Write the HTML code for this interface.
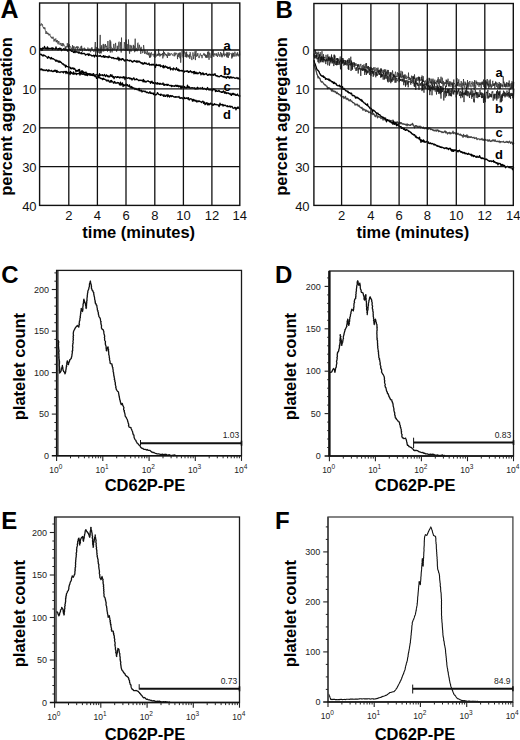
<!DOCTYPE html>
<html><head><meta charset="utf-8"><style>
html,body{margin:0;padding:0;background:#fff;width:520px;height:740px;overflow:hidden}
svg{display:block}
text{font-family:"Liberation Sans",sans-serif}
</style></head><body>
<svg width="520" height="740" viewBox="0 0 520 740">
<rect width="520" height="740" fill="#fff"/>
<polyline points="40,25.2 40.4,25.7 40.7,24.3 41.1,23.6 41.4,23.5 41.8,25.4 42.1,24.5 42.5,24.4 42.8,27 43.2,27.4 43.5,28.4 43.9,27 44.2,28.7 44.6,29 44.9,27.6 45.3,30.7 45.6,30.8 46,34 46.3,31.5 46.7,31.5 47,33.7 47.4,32.8 47.7,34.2 48.1,32.9 48.4,34 48.8,35.4 49.1,35.4 49.5,35 49.8,33.8 50.2,36.1 50.5,36 50.9,37.2 51.2,36.8 51.6,38.3 51.9,37.1 52.3,37.7 52.6,38.6 53,36.7 53.3,37.8 53.7,38 54,41.5 54.4,39.2 54.7,40.4 55.1,40.7 55.4,39.8 55.8,38.5 56.1,42.1 56.5,40.6 56.8,42.3 57.2,40 57.5,41.4 57.9,43.8 58.2,44.3 58.6,41 58.9,41.3 59.3,43.2 59.6,44.4 60,44 60.3,44.4 60.7,42.9 61,45.1 61.4,46 61.7,44.1 62.1,43 62.4,44.1 62.8,46.3 63.1,43.2 63.5,45.4 63.8,44.4 64.2,45.6 64.5,45.6 64.9,46.1 65.2,48.1 65.6,46.8 65.9,48.1 66.3,46.3 66.6,46 67,47.3 67.3,43.2 67.7,47 68,47.3 68.4,45.6 68.7,47.9 69.1,46.7 69.4,44.3 69.8,47.3 70.1,46.3 70.4,47 70.8,47.6 71.1,49.5 71.5,48 71.8,47.9 72.2,48.6 72.5,45.1 72.9,50 73.2,46.4 73.6,48.8 73.9,46.3 74.3,46.6 74.6,47.5 75,51.2 75.3,49.3 75.7,47.3 76,47.8 76.4,46.4 76.7,48.2 77.1,47.4 77.4,49.5 77.8,46.2 78.1,47.8 78.5,47.1 78.8,47.3 79.2,49.6 79.5,48.7 79.9,49.4 80.2,50.4 80.6,50.4 80.9,46.4 81.3,49.5 81.6,45.8 82,48.6 82.3,51.8 82.7,48.5 83,48.2 83.4,49.1 83.7,48.9 84.1,49 84.4,47.7 84.8,50.7 85.1,50.4 85.5,48.7 85.8,49.6 86.2,50.2 86.5,50.8 86.9,49.8 87.2,50.3 87.6,48.8 87.9,47.6 88.3,48.5 88.6,51 89,51 89.3,49.7 89.7,48.6 90,50 90.4,52.2 90.7,51.7 91.1,48.4 91.4,49.4 91.8,47.2 92.1,47.7 92.5,49.8 92.8,49.5 93.2,51 93.5,51.5 93.9,50.8 94.2,51.6 94.6,48.6 94.9,47.7 95.3,42 95.6,54.9 96,46.9 96.3,47.2 96.7,49.4 97,52.4 97.4,47.4 97.7,51.1 98.1,52.8 98.4,51 98.8,48.3 99.1,50.1 99.5,53.5 99.8,48.7 100.2,34.9 100.5,53.2 100.9,47.5 101.2,53.4 101.6,45.3 101.9,51.6 102.3,49.4 102.6,49.6 103,45 103.3,43.9 103.7,51.5 104,44.6 104.4,48.2 104.7,48.7 105.1,51 105.4,44 105.8,47 106.1,46.9 106.5,45.8 106.8,50.4 107.2,48.1 107.5,51.6 107.9,41 108.2,47 108.6,49.9 108.9,50.9 109.3,48.4 109.6,46.3 110,39.9 110.3,52.6 110.7,41.4 111,46.2 111.4,46.6 111.7,49.9 112.1,52.4 112.4,48.3 112.8,48.1 113.1,50 113.5,47.1 113.8,43.9 114.2,48.1 114.5,48 114.9,50.1 115.2,46.7 115.6,42.9 115.9,48.5 116.3,49 116.6,51.7 117,49.3 117.3,45.8 117.7,49.8 118,47.9 118.4,48.7 118.7,42.5 119.1,41.7 119.4,46.9 119.8,47.6 120.1,49.9 120.5,42.2 120.8,46.5 121.2,52.5 121.5,37.6 121.9,50.2 122.2,49.4 122.6,48.9 122.9,48.8 123.3,48.7 123.6,50 124,49.4 124.3,42.1 124.7,44.8 125,50.8 125.4,48.9 125.7,46.6 126.1,39.6 126.4,47.9 126.8,49.7 127.1,48.8 127.5,50.5 127.8,44.1 128.2,50.5 128.5,39.5 128.9,47.9 129.2,50.4 129.6,53.7 129.9,44.9 130.3,45.1 130.6,47.8 131,51.7 131.3,48.2 131.7,45.5 132,48.7 132.4,49.1 132.7,48.5 133.1,49.6 133.4,44.9 133.8,48.9 134.1,45.8 134.5,52.2 134.8,51.4 135.2,38.7 135.5,51.2 135.9,50.2 136.2,47.9 136.6,48.8 136.9,51.1 137.3,51.2 137.6,43.3 138,42.7 138.3,46.9 138.7,49.8 139,48.8 139.4,44.8 139.7,47.7 140.1,48.8 140.4,48.3 140.8,53.9 141.1,46.8 141.5,50.7 141.8,49.7 142.2,50.2 142.5,53 142.9,52.9 143.2,50.3 143.6,45.1 143.9,47.2 144.3,51 144.6,53.8 145,50.4 145.3,51.7 145.7,53.3 146,52.8 146.4,54.3 146.7,52.3 147.1,51.1 147.4,50.7 147.8,54.9 148.1,52.7 148.5,53 148.8,55.4 149.2,52.5 149.5,57.6 149.9,55.7 150.2,57.7 150.6,53.3 150.9,56.6 151.3,52.3 151.6,53.3 152,54.5 152.3,54.9 152.7,54.6 153,55.3 153.4,53.8 153.7,54.3 154.1,56.9 154.4,55.8 154.8,53.7 155.1,57.8 155.5,50.8 155.8,54.7 156.2,55.8 156.5,56.4 156.9,54.8 157.2,53.8 157.6,55.7 157.9,54.2 158.3,55.5 158.6,49.2 159,55.3 159.3,53.1 159.7,56.4 160,56 160.4,56 160.7,53.8 161.1,55.4 161.4,54 161.8,55 162.1,54.4 162.5,53 162.8,58.4 163.2,56 163.5,50.7 163.9,56.3 164.2,52 164.6,54.2 164.9,53.5 165.3,53.6 165.6,55.1 166,54 166.3,56.1 166.7,54.7 167,55.4 167.4,58 167.7,53.9 168.1,52.4 168.4,54 168.8,55.9 169.1,53 169.5,53.3 169.8,55.8 170.2,54.7 170.5,55.1 170.9,53.5 171.2,53.1 171.6,54.1 171.9,54.4 172.3,54.1 172.6,55.5 173,55.8 173.3,55.8 173.7,55.6 174,53.1 174.4,52.6 174.7,56.3 175.1,54.8 175.4,55 175.8,52.6 176.1,54.4 176.5,53.6 176.8,53.1 177.2,53.6 177.5,59.1 177.9,54.9 178.2,57 178.6,53.4 178.9,55 179.3,52.7 179.6,56.1 180,58.3 180.3,52.5 180.7,62.7 181,57.5 181.4,55.5 181.7,55 182.1,50.9 182.4,54.5 182.8,56.6 183.1,57.6 183.5,56.1 183.8,53.7 184.2,53.5 184.5,51.4 184.9,52.8 185.2,57 185.6,54.6 185.9,52.3 186.3,57.4 186.6,51.7 187,57.3 187.3,54.3 187.7,55.5 188,56.2 188.4,55.4 188.7,57.3 189.1,54.9 189.4,54.3 189.8,58.8 190.1,52.2 190.5,53.6 190.8,56.8 191.2,56.5 191.5,57.6 191.9,60.1 192.2,56.3 192.6,55.9 192.9,52.4 193.3,54.5 193.6,59.1 194,55.9 194.3,54.7 194.7,55.5 195,51.3 195.4,60.1 195.7,52.5 196.1,50.9 196.4,56.4 196.8,56.8 197.1,54.6 197.5,55.6 197.8,53.1 198.2,55.8 198.5,56.4 198.9,57.9 199.2,58 199.6,55.9 199.9,54.8 200.3,53.4 200.6,53.9 201,56.2 201.3,56.1 201.7,55.1 202,58.2 202.4,56.3 202.7,55.1 203.1,54.7 203.4,55.2 203.8,53.2 204.1,53.2 204.5,55.7 204.8,53.9 205.2,54.5 205.5,57.4 205.9,54.7 206.2,57.6 206.6,55.1 206.9,58 207.3,56 207.6,51.8 208,57.5 208.3,54.7 208.7,51.4 209,59.8 209.4,55.4 209.7,52.7 210.1,54 210.4,56.2 210.8,57.8 211.1,57.3 211.5,57.5 211.8,57.3 212.2,50.4 212.5,53.8 212.9,55.5 213.2,50.1 213.6,56.6 213.9,56.9 214.3,53.7 214.6,54.5 215,53.4 215.3,55.2 215.7,55.1 216,55.2 216.4,53.3 216.7,55.9 217.1,54.6 217.4,57 217.8,55.8 218.1,52.4 218.5,52.5 218.8,55.4 219.2,54.3 219.5,56.1 219.9,56.8 220.2,55.3 220.6,52.1 220.9,53 221.3,56.4 221.6,53.3 222,57.4 222.3,55.1 222.7,56.3 223,53.6 223.4,55.1 223.7,49.7 224.1,54.9 224.4,56.4 224.8,53.6 225.1,53.7 225.5,55.2 225.8,55.4 226.2,53.8 226.5,56.6 226.9,52.2 227.2,57.5 227.6,52.7 227.9,53.8 228.3,57.9 228.6,53.5 229,52.2 229.3,55.5 229.7,53.6 230,53.3 230.4,54 230.7,54 231.1,53.5 231.4,53.4 231.8,58.5 232.1,54.1 232.5,57.3 232.8,52.7 233.2,56.4 233.5,53 233.9,54.6 234.2,56.6 234.6,54.4 234.9,51.7 235.3,54.4 235.6,55.1 236,56.5 236.3,53.6 236.7,54.9 237,55.6 237.4,52.3 237.7,55.3 238.1,53.9 238.4,56.3 238.8,55.3 239.1,55.2 239.5,50.9 239.8,55.3" fill="none" stroke="#333" stroke-width="0.75" stroke-linejoin="round" />
<polyline points="40,50.1 40.5,48.4 41,49 41.5,48.8 42,50.5 42.5,48 43,48.5 43.5,48.3 44,48.1 44.5,46.4 45,48.4 45.5,48.5 46,48.1 46.5,48.8 47,48.3 47.5,46.8 48,49.2 48.5,48.3 49,48.1 49.5,48.7 50,48.6 50.5,48.6 51,48.1 51.5,48.7 52,47.8 52.5,49.5 53,48 53.5,48.7 54,48.8 54.5,49 55,48.8 55.5,49.2 56,47 56.5,48.9 57,48.9 57.5,48.8 58,49.9 58.5,48.6 59,49.1 59.5,48.1 60,49.4 60.5,48.4 61,48.5 61.5,50.7 62,49.9 62.5,49.5 63,49.7 63.5,48.8 64,49.1 64.5,50 65,48.7 65.5,50 66,49 66.5,50.1 67,49.4 67.5,51.1 68,50.8 68.5,50 69,49.3 69.5,48.9 70,50.4 70.5,50 71,50.9 71.5,51.4 72,50.9 72.5,50.9 73,51.7 73.5,52.5 74,52 74.5,51.5 75,52.7 75.5,51.8 76,51.5 76.5,52.2 77,52 77.5,51.9 78,52.5 78.5,53.1 79,51.7 79.5,53 80,53 80.5,53.1 81,53.7 81.5,52.6 82,53.8 82.5,53.4 83,53.6 83.5,53.5 84,53.5 84.5,53.5 85,54.1 85.5,55.1 86,54.6 86.5,54.5 87,54.4 87.5,53.9 88,54.6 88.5,55.5 89,53.7 89.5,54.9 90,55.1 90.5,54.8 91,55.1 91.5,55.5 92,56.1 92.5,55.6 93,55.9 93.5,55.2 94,55.6 94.5,57 95,55.4 95.5,55.1 96,55.8 96.5,56.3 97,55.5 97.5,55.8 98,56 98.5,55.8 99,56.4 99.5,56 100,55.3 100.5,55.5 101,56.5 101.5,56.6 102,56.9 102.5,56.5 103,56.5 103.5,55.6 104,57.4 104.5,56.1 105,57.3 105.5,56.2 106,56.5 106.5,57 107,56.8 107.5,56.7 108,57.7 108.5,57.6 109,55.8 109.5,57.2 110,57 110.5,57.3 111,57.3 111.5,57.7 112,58.2 112.5,57.8 113,57.5 113.5,57.7 114,58.8 114.5,58.3 115,58.4 115.5,58.5 116,58.7 116.5,58.5 117,59.2 117.5,59.1 118,57.1 118.5,58.7 119,60.5 119.5,58.2 120,59.1 120.5,59.7 121,59.2 121.5,60 122,58.6 122.5,58.7 123,59.4 123.5,59.2 124,60.5 124.5,60.1 125,61.2 125.5,59.9 126,59.8 126.5,60.2 127,60.1 127.5,59.8 128,60.6 128.5,60.6 129,60.5 129.5,61 130,60.1 130.5,60.7 131,60.5 131.5,61.6 132,61.3 132.5,62.2 133,62 133.5,61 134,60.7 134.5,60.5 135,61.3 135.5,61.5 136,61.1 136.5,62.1 137,60.6 137.5,62.1 138,62.2 138.5,61.6 139,61 139.5,62.1 140,62 140.5,62.2 141,63.1 141.5,62.6 142,63.6 142.5,62.9 143,64.4 143.5,63.3 144,63.5 144.5,62.5 145,63.9 145.5,63.4 146,62.9 146.5,63.9 147,63.8 147.5,64.4 148,64.2 148.5,64.1 149,63.1 149.5,65 150,65 150.5,64.7 151,64.6 151.5,65.1 152,64.1 152.5,65 153,64.7 153.5,64.3 154,65.1 154.5,65.2 155,66 155.5,67.5 156,64.4 156.5,64.3 157,65.4 157.5,65.4 158,65.1 158.5,64.9 159,65.7 159.5,65.3 160,64.6 160.5,66.6 161,66.3 161.5,65.9 162,65.8 162.5,66.4 163,67.6 163.5,65.3 164,67.8 164.5,66.5 165,67 165.5,66 166,66.9 166.5,67.4 167,66.8 167.5,68 168,68.4 168.5,67.5 169,68.1 169.5,67.8 170,67 170.5,69.8 171,68.7 171.5,69 172,68.8 172.5,68.8 173,70.1 173.5,67.9 174,68.9 174.5,68.9 175,69.1 175.5,69.8 176,69.1 176.5,67.6 177,69.1 177.5,70.1 178,70.4 178.5,69.1 179,71 179.5,70 180,70.9 180.5,70.8 181,70.5 181.5,70.3 182,71.3 182.5,70.5 183,70.8 183.5,70.5 184,72.1 184.5,72.1 185,71 185.5,71.2 186,71.3 186.5,71.5 187,70.6 187.5,71 188,72 188.5,72.4 189,71.3 189.5,72 190,71.6 190.5,70.8 191,71.9 191.5,71.6 192,72.7 192.5,72.2 193,72.4 193.5,71.6 194,73.8 194.5,71.5 195,72.8 195.5,73.5 196,72.1 196.5,73.3 197,73.7 197.5,72.9 198,73.7 198.5,73.2 199,72.9 199.5,72.2 200,72.8 200.5,72.6 201,74.8 201.5,73.7 202,73.5 202.5,72.9 203,74.7 203.5,73.2 204,74.7 204.5,74.6 205,74.1 205.5,73.7 206,74.1 206.5,73.5 207,74.7 207.5,75.3 208,74.9 208.5,75.1 209,74.2 209.5,74.8 210,74.2 210.5,74.5 211,75.3 211.5,74.6 212,75 212.5,75.1 213,74.1 213.5,75.3 214,74.8 214.5,74.6 215,73.6 215.5,75.6 216,75.4 216.5,76 217,75.6 217.5,75.8 218,76.7 218.5,76.4 219,76.4 219.5,76.9 220,76.3 220.5,75.7 221,75.8 221.5,75.5 222,76.6 222.5,76.3 223,76.9 223.5,77.1 224,76.3 224.5,76.9 225,77.6 225.5,77 226,77.5 226.5,78.2 227,76.6 227.5,77.1 228,76.2 228.5,77.7 229,77.1 229.5,78.2 230,76.9 230.5,77.7 231,76.7 231.5,77.7 232,78.1 232.5,77.5 233,77.4 233.5,77.3 234,77.8 234.5,77.8 235,78.4 235.5,78.2 236,78.1 236.5,78.1 237,77.5 237.5,78.4 238,78.9 238.5,78 239,78.7 239.5,79.3 240,78.6" fill="none" stroke="#000" stroke-width="1.3" stroke-linejoin="round" />
<polyline points="40,69.1 40.5,69.8 41,68.7 41.5,69.8 42,69.3 42.5,69.4 43,70.6 43.5,69.8 44,69.8 44.5,70.3 45,70.6 45.5,70.1 46,70.5 46.5,69.8 47,70.2 47.5,70.3 48,71.5 48.5,69.9 49,69.9 49.5,70.8 50,70.9 50.5,70.9 51,71.1 51.5,70.4 52,71.2 52.5,71.4 53,71.7 53.5,70.9 54,71.2 54.5,70.3 55,71.2 55.5,70.3 56,70.8 56.5,72.3 57,70.5 57.5,72.2 58,72 58.5,71.7 59,72.2 59.5,72.2 60,72.6 60.5,71.9 61,71.8 61.5,71.8 62,71.7 62.5,72.2 63,71.9 63.5,72.9 64,71.4 64.5,71.8 65,72 65.5,71.4 66,73.6 66.5,71.3 67,72.5 67.5,72.5 68,73.7 68.5,71.8 69,73.5 69.5,72.5 70,74.6 70.5,71.4 71,73.5 71.5,72.5 72,73.2 72.5,73.4 73,74.3 73.5,72 74,74.2 74.5,74 75,73.2 75.5,73.7 76,73.3 76.5,74.6 77,73.8 77.5,73.6 78,73.7 78.5,73.7 79,73.8 79.5,72.3 80,75.1 80.5,73 81,72.1 81.5,74 82,74 82.5,74.3 83,74.1 83.5,72.3 84,74.4 84.5,74.8 85,74 85.5,74.1 86,75.4 86.5,74.7 87,73.8 87.5,75.7 88,74.9 88.5,74.1 89,73.9 89.5,74.7 90,75.2 90.5,74 91,73.9 91.5,74.4 92,75.3 92.5,74.5 93,73.9 93.5,73.6 94,74.8 94.5,75.3 95,75.5 95.5,74.8 96,74.8 96.5,74.9 97,74.3 97.5,75.3 98,75.8 98.5,75.2 99,76.3 99.5,73.6 100,75.8 100.5,74.9 101,75.2 101.5,75 102,75.3 102.5,74.7 103,75.8 103.5,75.7 104,75.1 104.5,74.5 105,75.9 105.5,76.5 106,75.6 106.5,74.9 107,75.8 107.5,76.5 108,75.7 108.5,76.9 109,76.2 109.5,76.9 110,76.5 110.5,74.7 111,75.8 111.5,76.2 112,74.8 112.5,77.1 113,76.9 113.5,76.4 114,78.7 114.5,77.4 115,76.8 115.5,76.7 116,76.8 116.5,77.5 117,77.4 117.5,76.6 118,77.4 118.5,76.9 119,76.8 119.5,78 120,77.8 120.5,77 121,77.5 121.5,77.7 122,77.1 122.5,77.5 123,78 123.5,76.6 124,77.8 124.5,77.1 125,79.7 125.5,77.1 126,78 126.5,77.4 127,78.2 127.5,78.3 128,78.1 128.5,77.7 129,77.9 129.5,78.8 130,77.9 130.5,78.8 131,78.9 131.5,78.5 132,80.1 132.5,78.9 133,78.8 133.5,78 134,78 134.5,79.8 135,79.7 135.5,79.3 136,79.6 136.5,78.7 137,79.5 137.5,79.3 138,79.9 138.5,80.6 139,80.2 139.5,80.5 140,80 140.5,80.2 141,80.6 141.5,80.5 142,80.1 142.5,80.3 143,81.9 143.5,79.3 144,81.6 144.5,80.7 145,82.1 145.5,81.4 146,81.6 146.5,81.9 147,81.2 147.5,81.1 148,80.7 148.5,81.4 149,81.6 149.5,81.7 150,82.1 150.5,83.3 151,81.3 151.5,82.5 152,81.2 152.5,82.9 153,83.3 153.5,82.5 154,83.3 154.5,83.8 155,83.9 155.5,82.6 156,83.2 156.5,83.2 157,84.2 157.5,82.6 158,83.8 158.5,83.6 159,83.5 159.5,84.3 160,83.2 160.5,84.1 161,83.9 161.5,83.9 162,84.3 162.5,84.2 163,82.9 163.5,84.4 164,85.4 164.5,84.2 165,85 165.5,84.8 166,84.4 166.5,85.1 167,84.2 167.5,85.4 168,84.4 168.5,84.7 169,85.2 169.5,85.5 170,85.6 170.5,85.7 171,85.2 171.5,86.6 172,85.7 172.5,85.7 173,86.2 173.5,86.2 174,85.8 174.5,86.3 175,86.1 175.5,85.2 176,85.5 176.5,86.3 177,85.3 177.5,86.2 178,85.5 178.5,86.8 179,86 179.5,86.6 180,85.7 180.5,86.5 181,88.7 181.5,87 182,85.8 182.5,87.4 183,87.5 183.5,88.2 184,87.9 184.5,86.5 185,87.1 185.5,87.8 186,88 186.5,88 187,86.7 187.5,85.1 188,87.6 188.5,86.7 189,87.4 189.5,86.9 190,88.2 190.5,88.1 191,88 191.5,87.7 192,87.8 192.5,87.7 193,88.1 193.5,88 194,88.2 194.5,87.8 195,89.1 195.5,88.2 196,88.9 196.5,88.9 197,87.7 197.5,87.3 198,89 198.5,88.1 199,88.4 199.5,88.3 200,88.5 200.5,87.9 201,88.5 201.5,88.3 202,88.6 202.5,87.4 203,89.2 203.5,88.9 204,88.7 204.5,88.4 205,88.9 205.5,89.3 206,89 206.5,89.8 207,89.1 207.5,87.5 208,88.8 208.5,89.6 209,90 209.5,89.7 210,89.9 210.5,89.7 211,90 211.5,89.4 212,89.5 212.5,90.9 213,89.4 213.5,89 214,89.7 214.5,89.5 215,89.4 215.5,91.5 216,90.7 216.5,90.4 217,91.4 217.5,91.3 218,91.5 218.5,90.7 219,90.3 219.5,91.5 220,91.5 220.5,91.9 221,91.8 221.5,92.4 222,91.7 222.5,92.3 223,91.6 223.5,90.9 224,92 224.5,93.2 225,91.6 225.5,93.2 226,92.4 226.5,93.6 227,93 227.5,93.2 228,92.7 228.5,93.4 229,93.7 229.5,94 230,93.3 230.5,94.6 231,95 231.5,95.4 232,93.4 232.5,94.4 233,93.4 233.5,93.5 234,94.9 234.5,94.1 235,94 235.5,95.1 236,95.4 236.5,94.8 237,95.2 237.5,94 238,95.1 238.5,95.7 239,95.9 239.5,96.8 240,95.4" fill="none" stroke="#000" stroke-width="1.3" stroke-linejoin="round" />
<polyline points="40,54 40.5,54.5 41,54.1 41.5,54.8 42,55.3 42.5,55.2 43,56.1 43.5,54.9 44,55.6 44.5,55.4 45,55.6 45.5,56.1 46,56.5 46.5,56.8 47,57.1 47.5,58.2 48,57.7 48.5,56.5 49,57.7 49.5,57.5 50,57.7 50.5,58.9 51,58.3 51.5,57.5 52,59 52.5,58.8 53,58.6 53.5,58.9 54,59.3 54.5,59.8 55,59.8 55.5,60.2 56,61.4 56.5,60.2 57,60.4 57.5,60.9 58,61.8 58.5,61 59,62.4 59.5,61.1 60,61.4 60.5,62.3 61,62.2 61.5,62.6 62,63.5 62.5,64 63,63.9 63.5,64 64,65.2 64.5,65 65,65 65.5,67 66,65.3 66.5,66.2 67,66.7 67.5,66.7 68,66.7 68.5,67.4 69,67 69.5,67.2 70,67.1 70.5,68.6 71,67.7 71.5,68.8 72,68.5 72.5,68.4 73,67.7 73.5,69 74,69.1 74.5,68.4 75,69.4 75.5,70 76,71.7 76.5,70.4 77,70.8 77.5,70.4 78,71.4 78.5,69.7 79,70.5 79.5,69.4 80,72.3 80.5,72.5 81,72.3 81.5,71.3 82,70.6 82.5,72.5 83,71.3 83.5,73.1 84,72.2 84.5,72.8 85,72.4 85.5,72.9 86,72 86.5,74.1 87,73.3 87.5,73.6 88,74 88.5,73.9 89,74.1 89.5,73.7 90,74.3 90.5,74.7 91,75.2 91.5,74.8 92,75.1 92.5,75.4 93,75.6 93.5,75.6 94,75.5 94.5,75.6 95,76.6 95.5,76.3 96,76.3 96.5,78.4 97,77.2 97.5,77.3 98,77.1 98.5,76.6 99,78 99.5,77.5 100,77.7 100.5,78.4 101,78.6 101.5,78.3 102,78.3 102.5,79.7 103,79 103.5,78.3 104,79.4 104.5,79.2 105,79.4 105.5,79.9 106,79.8 106.5,80.9 107,80.1 107.5,80.3 108,81 108.5,80.2 109,81.2 109.5,82.1 110,81.7 110.5,80.7 111,82.4 111.5,80.5 112,81.3 112.5,81.7 113,82.1 113.5,83.1 114,83.1 114.5,81.5 115,82 115.5,83.2 116,82.9 116.5,82.9 117,83.2 117.5,82.5 118,82.8 118.5,82.7 119,83.4 119.5,84.9 120,84 120.5,82.1 121,85.4 121.5,83.9 122,84.3 122.5,82.8 123,86.5 123.5,84.6 124,85.7 124.5,84.9 125,85.5 125.5,85.4 126,83.9 126.5,85 127,85.7 127.5,84.6 128,86 128.5,86.2 129,86.5 129.5,84.8 130,87 130.5,86.8 131,87.6 131.5,86.5 132,88.1 132.5,87.3 133,88.3 133.5,87.9 134,88.2 134.5,88.2 135,89.5 135.5,88.4 136,88.5 136.5,89.5 137,89.7 137.5,89.8 138,89.5 138.5,88.5 139,90.7 139.5,88.3 140,90.8 140.5,91 141,90.8 141.5,90.2 142,92 142.5,91.1 143,91.3 143.5,91.1 144,90.9 144.5,91.4 145,91.8 145.5,91.3 146,91.9 146.5,92.6 147,92.4 147.5,92.2 148,92.9 148.5,93 149,93.1 149.5,92.3 150,91.8 150.5,93.4 151,93.1 151.5,93 152,93.6 152.5,93.2 153,93.2 153.5,94.6 154,92.9 154.5,94.3 155,94.6 155.5,95 156,94.3 156.5,94.5 157,93.8 157.5,92.6 158,93.3 158.5,94.2 159,94.6 159.5,94.6 160,94.5 160.5,95.4 161,94 161.5,95 162,94.8 162.5,95.1 163,95.2 163.5,96.3 164,94.7 164.5,96.1 165,96.2 165.5,96.4 166,95.2 166.5,95 167,95.2 167.5,96.9 168,94.7 168.5,96.2 169,95.6 169.5,97.1 170,96.3 170.5,95.5 171,96 171.5,96.5 172,95.6 172.5,96 173,96.4 173.5,96.4 174,97 174.5,96.9 175,97 175.5,96.6 176,97.4 176.5,96.8 177,96.7 177.5,97 178,97.1 178.5,97.2 179,96.4 179.5,98.2 180,97.9 180.5,98.4 181,97.5 181.5,98.2 182,98 182.5,97.9 183,99 183.5,97.8 184,98.5 184.5,97.4 185,98.7 185.5,98.4 186,98.1 186.5,98.4 187,97.7 187.5,98.4 188,99.1 188.5,97.7 189,99.8 189.5,99.9 190,99 190.5,98.7 191,98.9 191.5,99.1 192,99.5 192.5,101.2 193,99.5 193.5,99.4 194,101 194.5,99.9 195,100.3 195.5,101 196,100.3 196.5,101.5 197,102.1 197.5,101 198,100.7 198.5,101.5 199,101.5 199.5,101 200,101.4 200.5,101.7 201,102 201.5,102.5 202,101.7 202.5,101.3 203,101.2 203.5,103.3 204,102.1 204.5,102.2 205,104.7 205.5,103.3 206,104 206.5,102.8 207,102.6 207.5,104.4 208,105 208.5,103.5 209,103.6 209.5,104.7 210,104.3 210.5,103.1 211,104 211.5,104.2 212,103.6 212.5,105.3 213,104.6 213.5,105 214,104 214.5,103.7 215,104.8 215.5,104.4 216,104.3 216.5,104.6 217,104.8 217.5,104.9 218,104.7 218.5,105.2 219,106.6 219.5,105.7 220,103.1 220.5,104.6 221,105 221.5,104.5 222,104.7 222.5,104.4 223,106.2 223.5,105 224,104.9 224.5,105.5 225,105.7 225.5,105.2 226,105.7 226.5,106.1 227,106.5 227.5,105.7 228,106.6 228.5,106.5 229,106.7 229.5,106.2 230,105.9 230.5,107.2 231,107 231.5,106.4 232,106.4 232.5,107.3 233,108.1 233.5,108.2 234,108.5 234.5,107.4 235,107.5 235.5,107.6 236,109.8 236.5,108.1 237,107.7 237.5,108.3 238,106.8 238.5,107.9 239,108.3 239.5,108.9 240,108.9" fill="none" stroke="#000" stroke-width="1.3" stroke-linejoin="round" />
<line x1="68.8" y1="3" x2="68.8" y2="205.4" stroke="#111" stroke-width="1.3"/>
<line x1="97.4" y1="3" x2="97.4" y2="205.4" stroke="#111" stroke-width="1.3"/>
<line x1="126" y1="3" x2="126" y2="205.4" stroke="#111" stroke-width="1.3"/>
<line x1="154.8" y1="3" x2="154.8" y2="205.4" stroke="#111" stroke-width="1.3"/>
<line x1="183.4" y1="3" x2="183.4" y2="205.4" stroke="#111" stroke-width="1.3"/>
<line x1="211.9" y1="3" x2="211.9" y2="205.4" stroke="#111" stroke-width="1.3"/>
<line x1="39.6" y1="50" x2="239.8" y2="50" stroke="#111" stroke-width="1.3"/>
<line x1="39.6" y1="88.9" x2="239.8" y2="88.9" stroke="#111" stroke-width="1.3"/>
<line x1="39.6" y1="127.8" x2="239.8" y2="127.8" stroke="#111" stroke-width="1.3"/>
<line x1="39.6" y1="166.7" x2="239.8" y2="166.7" stroke="#111" stroke-width="1.3"/>
<rect x="39.6" y="3" width="200.2" height="202.4" fill="none" stroke="#111" stroke-width="1.4"/>
<text x="36.6" y="55.3" font-size="13" font-weight="normal" text-anchor="end" fill="#111" >0</text>
<text x="36.6" y="94.2" font-size="13" font-weight="normal" text-anchor="end" fill="#111" >10</text>
<text x="36.6" y="133.1" font-size="13" font-weight="normal" text-anchor="end" fill="#111" >20</text>
<text x="36.6" y="172" font-size="13" font-weight="normal" text-anchor="end" fill="#111" >30</text>
<text x="36.6" y="210.7" font-size="13" font-weight="normal" text-anchor="end" fill="#111" >40</text>
<text x="68.8" y="219.6" font-size="13" font-weight="normal" text-anchor="middle" fill="#111" >2</text>
<text x="97.4" y="219.6" font-size="13" font-weight="normal" text-anchor="middle" fill="#111" >4</text>
<text x="126" y="219.6" font-size="13" font-weight="normal" text-anchor="middle" fill="#111" >6</text>
<text x="154.8" y="219.6" font-size="13" font-weight="normal" text-anchor="middle" fill="#111" >8</text>
<text x="183.4" y="219.6" font-size="13" font-weight="normal" text-anchor="middle" fill="#111" >10</text>
<text x="211.9" y="219.6" font-size="13" font-weight="normal" text-anchor="middle" fill="#111" >12</text>
<text x="239.8" y="219.6" font-size="13" font-weight="normal" text-anchor="middle" fill="#111" >14</text>
<text x="138.7" y="238.2" font-size="16.5" font-weight="bold" text-anchor="middle" fill="#000" >time (minutes)</text>
<text transform="translate(12.2,116.5) rotate(-90)" font-size="16.5" font-weight="bold" text-anchor="middle">percent aggregation</text>
<text x="0.5" y="17.9" font-size="25" font-weight="bold" text-anchor="start" fill="#000" >A</text>
<text x="227" y="50" font-size="13" font-weight="bold" text-anchor="middle" fill="#000" >a</text>
<text x="227" y="74.5" font-size="13" font-weight="bold" text-anchor="middle" fill="#000" >b</text>
<text x="227" y="90.5" font-size="13" font-weight="bold" text-anchor="middle" fill="#000" >c</text>
<text x="227" y="119" font-size="13" font-weight="bold" text-anchor="middle" fill="#000" >d</text>
<polyline points="314,51.3 314.2,51.5 314.5,49.2 314.8,50.2 315,54.1 315.2,53.2 315.5,50.2 315.8,53.4 316,54.1 316.2,51.9 316.5,57.1 316.8,54.4 317,57.3 317.2,54.3 317.5,52.7 317.8,54.4 318,53.7 318.2,51.7 318.5,52.8 318.8,56 319,57.6 319.2,55.7 319.5,56.4 319.8,54.4 320,55.9 320.2,52.1 320.5,58.7 320.8,56.7 321,58.5 321.2,56.6 321.5,59.8 321.8,55.4 322,51.2 322.2,56.8 322.5,57.7 322.8,58.1 323,55.8 323.2,60.2 323.5,54.2 323.8,58.4 324,57.9 324.2,58.1 324.5,56.9 324.8,58.4 325,57.5 325.2,58.3 325.5,58.3 325.8,57.3 326,54.8 326.2,56.2 326.5,57.6 326.8,59.6 327,59.7 327.2,57.9 327.5,57.1 327.8,54.4 328,60.2 328.2,57.8 328.5,59.3 328.8,59 329,56.9 329.2,60.4 329.5,57.3 329.8,56.5 330,58.3 330.2,60.2 330.5,57.8 330.8,62 331,60.5 331.2,58.9 331.5,56.3 331.8,59.5 332,57.8 332.2,60.6 332.5,57.4 332.8,61.2 333,62.5 333.2,58.6 333.5,60.5 333.8,61.5 334,58.4 334.2,54.5 334.5,58.6 334.8,58.1 335,55.6 335.2,57.7 335.5,59.9 335.8,59.9 336,60.3 336.2,58.7 336.5,58.3 336.8,60 337,58.1 337.2,62.8 337.5,61.8 337.8,60.3 338,58.6 338.2,59.6 338.5,60.6 338.8,58.7 339,59.5 339.2,60.6 339.5,63.6 339.8,59.2 340,57.4 340.2,56.5 340.5,59.2 340.8,61.3 341,61.7 341.2,60.1 341.5,59.5 341.8,59.8 342,59.4 342.2,61.2 342.5,58 342.8,62.3 343,59.5 343.2,58.3 343.5,61.2 343.8,61.9 344,59.9 344.2,60.2 344.5,61.3 344.8,60.7 345,60.2 345.2,61.3 345.5,60.3 345.8,62 346,62.8 346.2,62.1 346.5,61 346.8,60.8 347,61.5 347.2,60.2 347.5,61.2 347.8,59.7 348,64.8 348.2,63.5 348.5,62 348.8,62.3 349,58 349.2,59.3 349.5,59.4 349.8,60.9 350,62.9 350.2,62.7 350.5,61.1 350.8,56.7 351,64.4 351.2,63.8 351.5,61.8 351.8,64.4 352,64.2 352.2,63.2 352.5,62.5 352.8,62.9 353,63.5 353.2,64.8 353.5,62.3 353.8,63.5 354,64.2 354.2,64.5 354.5,64.3 354.8,63.6 355,63.6 355.2,65.7 355.5,65.9 355.8,63.7 356,63.2 356.2,65.4 356.5,65.1 356.8,65.8 357,65.5 357.2,64.6 357.5,65.5 357.8,66.7 358,64.9 358.2,66.1 358.5,66.2 358.8,64.3 359,64.3 359.2,64.9 359.5,66.3 359.8,68.7 360,66.1 360.2,66.2 360.5,65.2 360.8,63.9 361,65.4 361.2,65.6 361.5,67.2 361.8,67.6 362,69.8 362.2,67.4 362.5,66.1 362.8,65 363,68.6 363.2,68.5 363.5,67.1 363.8,65.2 364,64.3 364.2,69.6 364.5,66.4 364.8,67.8 365,68.2 365.2,68.6 365.5,66.9 365.8,63.4 366,67.6 366.2,68.3 366.5,63.1 366.8,68 367,68.7 367.2,67 367.5,68.4 367.8,66 368,69.3 368.2,70.2 368.5,66 368.8,69.4 369,67 369.2,68.2 369.5,67.6 369.8,70.5 370,68.7 370.2,70.7 370.5,66.8 370.8,70.2 371,69.9 371.2,67.3 371.5,69.6 371.8,68.3 372,69.3 372.2,70.3 372.5,69.9 372.8,68.1 373,70.1 373.2,68.2 373.5,68.2 373.8,67.3 374,69.9 374.2,71.3 374.5,70.2 374.8,69.8 375,67.3 375.2,70.6 375.5,69.8 375.8,70 376,70.6 376.2,71 376.5,70.7 376.8,67.9 377,69.5 377.2,70.1 377.5,69.7 377.8,71.7 378,67.6 378.2,72.8 378.5,72.5 378.8,72.6 379,70.7 379.2,72.1 379.5,70.3 379.8,71.1 380,71 380.2,72.6 380.5,72.9 380.8,72.8 381,69 381.2,70.2 381.5,70.9 381.8,69.5 382,72 382.2,72.4 382.5,72.8 382.8,71.5 383,70.2 383.2,72.8 383.5,73.8 383.8,69.7 384,70.2 384.2,72.1 384.5,72 384.8,69.2 385,70.8 385.2,71.8 385.5,74 385.8,69.6 386,76 386.2,72.4 386.5,73.1 386.8,71.4 387,74.2 387.2,72.8 387.5,73.4 387.8,69.9 388,75.2 388.2,70 388.5,73.4 388.8,72.5 389,73.5 389.2,74.9 389.5,74.9 389.8,75.7 390,75.8 390.2,74.8 390.5,74 390.8,72.8 391,75.3 391.2,73.7 391.5,72.6 391.8,74.3 392,74.9 392.2,75.5 392.5,70.4 392.8,72.6 393,73.7 393.2,77.4 393.5,75.2 393.8,77.1 394,74.3 394.2,75.7 394.5,77 394.8,76.7 395,76 395.2,73.3 395.5,71.7 395.8,72.9 396,74.4 396.2,76.7 396.5,76.9 396.8,76.4 397,77.2 397.2,77.1 397.5,72.3 397.8,72.9 398,75.8 398.2,76.7 398.5,75.9 398.8,73.1 399,74.1 399.2,76.3 399.5,76 399.8,77.7 400,77.9 400.2,77 400.5,73.6 400.8,77.1 401,70.8 401.2,76.8 401.5,77.9 401.8,77 402,76.4 402.2,76.9 402.5,71.6 402.8,77.6 403,76.6 403.2,77.1 403.5,75.5 403.8,78 404,74.8 404.2,77 404.5,78.8 404.8,74.7 405,75.3 405.2,74.6 405.5,78.6 405.8,77.6 406,76.5 406.2,75.6 406.5,79 406.8,78.4 407,78 407.2,78.2 407.5,77.4 407.8,77.6 408,76.6 408.2,78 408.5,72.6 408.8,80 409,78.8 409.2,78.7 409.5,77.3 409.8,79.6 410,78.6 410.2,80.3 410.5,78.5 410.8,77.9 411,81.1 411.2,78.8 411.5,75.7 411.8,77.2 412,78.7 412.2,79.1 412.5,77.2 412.8,76.4 413,78.3 413.2,75.9 413.5,78.9 413.8,76.8 414,77.9 414.2,79 414.5,74.4 414.8,78.6 415,77.8 415.2,82.8 415.5,79.2 415.8,82 416,80.6 416.2,78 416.5,79.8 416.8,80.9 417,77.3 417.2,79.4 417.5,80.4 417.8,80 418,80.3 418.2,77 418.5,79.4 418.8,76.5 419,80.7 419.2,80.6 419.5,78.5 419.8,77.2 420,80.4 420.2,80.6 420.5,80 420.8,79.7 421,80.8 421.2,78.4 421.5,77.1 421.8,80 422,75.5 422.2,79.4 422.5,82.4 422.8,79.9 423,81.6 423.2,76.2 423.5,82 423.8,80.4 424,81.9 424.2,81.1 424.5,83 424.8,82.7 425,85.4 425.2,82.7 425.5,81.3 425.8,80.4 426,82.1 426.2,82 426.5,82.1 426.8,84.7 427,81.6 427.2,78.8 427.5,83.4 427.8,83.2 428,81.3 428.2,80.9 428.5,84.1 428.8,81.9 429,77.8 429.2,80.7 429.5,78.4 429.8,81.8 430,83.5 430.2,81.5 430.5,82.6 430.8,82.7 431,78.6 431.2,83.6 431.5,81.7 431.8,85.2 432,79.4 432.2,80 432.5,86 432.8,86.1 433,78.6 433.2,80 433.5,81.1 433.8,84.2 434,81.3 434.2,84.7 434.5,85.5 434.8,79.7 435,83.3 435.2,82 435.5,83.6 435.8,82.5 436,82.7 436.2,82.7 436.5,84.4 436.8,80.5 437,82 437.2,81.3 437.5,82.2 437.8,79.3 438,83.7 438.2,77.2 438.5,83.9 438.8,83.9 439,83.3 439.2,86.7 439.5,82.1 439.8,79.2 440,83 440.2,80.7 440.5,82.9 440.8,81.2 441,76.7 441.2,83.2 441.5,83.3 441.8,82.3 442,84 442.2,77.7 442.5,80.5 442.8,80.5 443,89 443.2,81 443.5,83.9 443.8,84.2 444,85.7 444.2,83.5 444.5,82.5 444.8,84.3 445,83 445.2,82.1 445.5,83.1 445.8,83.9 446,82.1 446.2,79.6 446.5,87 446.8,80.1 447,82 447.2,81 447.5,82.4 447.8,84.3 448,78.7 448.2,80.3 448.5,86.4 448.8,84.6 449,82.6 449.2,85.8 449.5,84.9 449.8,81.2 450,86.9 450.2,85.1 450.5,84.8 450.8,81.7 451,82.7 451.2,83.8 451.5,84.8 451.8,82.6 452,86.7 452.2,85.4 452.5,83.3 452.8,83.6 453,82.3 453.2,88.3 453.5,83.8 453.8,79.5 454,83.9 454.2,83.8 454.5,83.1 454.8,84.8 455,87.5 455.2,85.9 455.5,86.1 455.8,85.5 456,86.2 456.2,84.1 456.5,85.4 456.8,82.2 457,78.2 457.2,85.9 457.5,85.7 457.8,82.1 458,86.2 458.2,82.1 458.5,82.8 458.8,79.4 459,83.8 459.2,86.6 459.5,85.7 459.8,83.5 460,83.4 460.2,84.1 460.5,84 460.8,85.1 461,87.3 461.2,81.1 461.5,85.7 461.8,86.9 462,88.3 462.2,87.7 462.5,89.7 462.8,82.7 463,85.8 463.2,84.6 463.5,79 463.8,85.1 464,84.5 464.2,87.8 464.5,85.8 464.8,85.2 465,81.6 465.2,84.7 465.5,85 465.8,82.7 466,85.7 466.2,89.2 466.5,86.3 466.8,85.1 467,83.6 467.2,87.2 467.5,80.1 467.8,86.3 468,88.5 468.2,82.6 468.5,82.4 468.8,86.3 469,86.7 469.2,84.9 469.5,84.3 469.8,81 470,82.5 470.2,84.4 470.5,85.4 470.8,85.4 471,87.3 471.2,84.1 471.5,83.1 471.8,83.7 472,81.8 472.2,81.4 472.5,85 472.8,85 473,86.7 473.2,84.9 473.5,83.2 473.8,82.2 474,83.1 474.2,89.8 474.5,80.2 474.8,85.2 475,86.1 475.2,85.5 475.5,88 475.8,87 476,80.5 476.2,84.2 476.5,82.2 476.8,82.8 477,81.8 477.2,82.8 477.5,85.2 477.8,84 478,82.9 478.2,82.2 478.5,84.6 478.8,84.6 479,86.9 479.2,83.4 479.5,83.6 479.8,85 480,82.1 480.2,85.3 480.5,84.4 480.8,84.5 481,83.2 481.2,88 481.5,82.4 481.8,82.7 482,84 482.2,81.5 482.5,84.4 482.8,84.4 483,82.2 483.2,85.1 483.5,79.6 483.8,86.1 484,87 484.2,84.9 484.5,88.4 484.8,87 485,83.3 485.2,80.6 485.5,89 485.8,80.2 486,88.6 486.2,83.7 486.5,81.7 486.8,84.3 487,83.6 487.2,79 487.5,85.3 487.8,82.5 488,86.4 488.2,85.4 488.5,83.7 488.8,89 489,80.5 489.2,83 489.5,83.4 489.8,87.2 490,85.6 490.2,79.5 490.5,84.1 490.8,86.3 491,84.2 491.2,88.2 491.5,86.4 491.8,85.8 492,86.8 492.2,85 492.5,82.3 492.8,80.8 493,86.1 493.2,84.3 493.5,84.7 493.8,85.9 494,83.1 494.2,85.6 494.5,83.6 494.8,88.7 495,86.3 495.2,86 495.5,81.6 495.8,84.5 496,81.9 496.2,84 496.5,85.2 496.8,87 497,82.9 497.2,82.9 497.5,87.9 497.8,88.5 498,87.3 498.2,85.8 498.5,83.9 498.8,86.6 499,88.9 499.2,82 499.5,88.7 499.8,89.2 500,86.5 500.2,83.7 500.5,88.9 500.8,83 501,86.7 501.2,85.8 501.5,84.7 501.8,84.4 502,85.8 502.2,86.4 502.5,84.7 502.8,87.4 503,86.3 503.2,76.4 503.5,83 503.8,83.3 504,81.7 504.2,86.5 504.5,83.6 504.8,86.9 505,83.6 505.2,85.1 505.5,87.4 505.8,85.7 506,83.8 506.2,86.5 506.5,82.3 506.8,84.9 507,87.3 507.2,84.2 507.5,82.8 507.8,82.9 508,82.8 508.2,87.2 508.5,82.9 508.8,85.5 509,82.7 509.2,80.5 509.5,86.5 509.8,84.9 510,83.9 510.2,89.7 510.5,87.8 510.8,88.3 511,84.8 511.2,83 511.5,88.3 511.8,84.5 512,81.3 512.2,83.5 512.5,88.2 512.8,84.6 513,82.6 513.2,85.1 513.5,87.8 513.8,82 514,82.1" fill="none" stroke="#222" stroke-width="0.7" stroke-linejoin="round" />
<polyline points="314,56.7 314.2,53.6 314.5,58.3 314.8,56.3 315,54.7 315.2,58.2 315.5,56.4 315.8,55.2 316,57.4 316.2,58.5 316.5,57.7 316.8,55.1 317,59.3 317.2,58.7 317.5,58.1 317.8,58 318,62.1 318.2,57.1 318.5,59.2 318.8,56.9 319,63.3 319.2,54.4 319.5,57.6 319.8,57.9 320,59.9 320.2,61.5 320.5,59.2 320.8,62.4 321,57.2 321.2,61.5 321.5,56.6 321.8,60 322,59.1 322.2,57.8 322.5,62.2 322.8,59 323,57 323.2,60.4 323.5,57.4 323.8,62.4 324,58.8 324.2,59.9 324.5,59.1 324.8,60.6 325,59.8 325.2,61.3 325.5,59.7 325.8,64.1 326,60.4 326.2,58.9 326.5,61.3 326.8,59.5 327,58.9 327.2,61.2 327.5,60.2 327.8,65.3 328,62 328.2,61.8 328.5,56.7 328.8,60.1 329,61 329.2,58 329.5,65.7 329.8,62.9 330,62.3 330.2,61.9 330.5,57.8 330.8,59.2 331,63.4 331.2,59.3 331.5,54.5 331.8,58.6 332,61.3 332.2,59.5 332.5,63.4 332.8,62.1 333,61.7 333.2,61 333.5,62.7 333.8,66.1 334,63.1 334.2,55.2 334.5,63.5 334.8,62.4 335,60 335.2,64.7 335.5,65 335.8,62 336,60.9 336.2,62.4 336.5,65.2 336.8,61 337,65.2 337.2,60.1 337.5,58 337.8,64.9 338,61.6 338.2,60.1 338.5,63.1 338.8,63.7 339,65 339.2,63.7 339.5,62.5 339.8,61.3 340,61.9 340.2,63.9 340.5,69.3 340.8,59.5 341,61.5 341.2,60.6 341.5,61.8 341.8,63.1 342,63.1 342.2,62 342.5,63.6 342.8,60.8 343,63.3 343.2,61 343.5,60.1 343.8,65.7 344,65 344.2,61.7 344.5,64.6 344.8,63.1 345,62.4 345.2,65.1 345.5,60.9 345.8,64.2 346,64.8 346.2,62.5 346.5,63.6 346.8,64.3 347,65.6 347.2,63.2 347.5,62 347.8,59.8 348,65.5 348.2,69.1 348.5,64.8 348.8,70 349,65.6 349.2,59.7 349.5,61.8 349.8,64.9 350,64.1 350.2,65.6 350.5,63.2 350.8,64.1 351,71 351.2,67.7 351.5,60.6 351.8,65.5 352,69.8 352.2,63 352.5,69.4 352.8,64.8 353,64.3 353.2,65.5 353.5,66.3 353.8,66 354,66.2 354.2,66.9 354.5,62.5 354.8,68.3 355,68.3 355.2,68.8 355.5,68.9 355.8,68.5 356,71 356.2,67.3 356.5,68.2 356.8,67.9 357,70.5 357.2,67.6 357.5,66.6 357.8,67.6 358,64.2 358.2,73.5 358.5,68.1 358.8,68.1 359,69.5 359.2,68.2 359.5,68.7 359.8,68.9 360,69.3 360.2,68 360.5,71.1 360.8,75.9 361,69.1 361.2,70.3 361.5,68.7 361.8,68.6 362,67.7 362.2,67.9 362.5,70.9 362.8,69.1 363,69.4 363.2,70.6 363.5,68.4 363.8,70.2 364,70.4 364.2,69.3 364.5,69 364.8,75 365,69.1 365.2,72.4 365.5,68.7 365.8,71.4 366,70.2 366.2,69.2 366.5,74.8 366.8,69.9 367,72 367.2,72.7 367.5,71.3 367.8,73.4 368,70.3 368.2,72.5 368.5,72 368.8,71.2 369,70.5 369.2,69.4 369.5,74.9 369.8,73.5 370,69.6 370.2,70.7 370.5,72.7 370.8,74.5 371,75.8 371.2,72.9 371.5,70.8 371.8,71.9 372,70.6 372.2,73.8 372.5,70.5 372.8,73.2 373,71.6 373.2,76.8 373.5,71.2 373.8,72.7 374,75.4 374.2,72.8 374.5,71.3 374.8,71.2 375,71.5 375.2,72.7 375.5,72.3 375.8,77.3 376,71.7 376.2,71.9 376.5,75.6 376.8,72.7 377,71.1 377.2,75.9 377.5,74.6 377.8,74.8 378,73.8 378.2,73.7 378.5,70.4 378.8,72.5 379,74.7 379.2,74.1 379.5,73 379.8,75 380,69.5 380.2,73.2 380.5,75.3 380.8,77.8 381,68.1 381.2,76.9 381.5,73.9 381.8,77.1 382,73.5 382.2,76.4 382.5,74.6 382.8,74.5 383,77.8 383.2,79.7 383.5,73.2 383.8,73.8 384,72.4 384.2,76.2 384.5,79.5 384.8,74.5 385,75 385.2,78.7 385.5,75.4 385.8,73.4 386,74.4 386.2,76.3 386.5,77.7 386.8,78.7 387,74.5 387.2,78.4 387.5,81.5 387.8,76 388,77.3 388.2,82.4 388.5,77.1 388.8,77.1 389,75.1 389.2,74.8 389.5,77.3 389.8,81.8 390,77.8 390.2,72 390.5,75.3 390.8,83.2 391,75.4 391.2,78.5 391.5,81.3 391.8,79.3 392,82 392.2,78.8 392.5,77.4 392.8,80.4 393,76.4 393.2,76.3 393.5,74.3 393.8,80.3 394,78.8 394.2,78.6 394.5,75.3 394.8,77.1 395,82.7 395.2,80.8 395.5,77.1 395.8,75.9 396,82.6 396.2,78.8 396.5,78.1 396.8,79 397,78.5 397.2,81.2 397.5,80.3 397.8,80.1 398,79.6 398.2,78.9 398.5,78 398.8,78.5 399,76.9 399.2,82.2 399.5,77.3 399.8,80.1 400,79.6 400.2,80.8 400.5,79.3 400.8,80.9 401,78.9 401.2,78.7 401.5,80.3 401.8,79.7 402,81.5 402.2,81.1 402.5,79.2 402.8,81.4 403,78.3 403.2,77.6 403.5,81.8 403.8,85.2 404,80.4 404.2,78.6 404.5,82.4 404.8,80.2 405,80.4 405.2,80.4 405.5,86.7 405.8,80.5 406,85.3 406.2,82.1 406.5,80.6 406.8,79.9 407,79.7 407.2,81.5 407.5,84.5 407.8,81.6 408,80.5 408.2,87.3 408.5,81.3 408.8,82.4 409,81.7 409.2,81.9 409.5,81.6 409.8,82.3 410,81.2 410.2,81.2 410.5,82.3 410.8,84.7 411,80.5 411.2,80.4 411.5,83 411.8,82 412,82.1 412.2,82.1 412.5,81.9 412.8,78.8 413,83.7 413.2,82.6 413.5,82.8 413.8,77.3 414,85.1 414.2,86.3 414.5,82.9 414.8,87 415,84 415.2,81.4 415.5,81.4 415.8,89.9 416,82.6 416.2,81.3 416.5,84.3 416.8,82.9 417,83.9 417.2,82.7 417.5,85.7 417.8,83 418,84.3 418.2,84.4 418.5,85.6 418.8,84.7 419,89.8 419.2,77 419.5,82.5 419.8,83.3 420,85.5 420.2,84.1 420.5,83.3 420.8,85.9 421,85.7 421.2,84.2 421.5,83.4 421.8,82 422,91.1 422.2,79.4 422.5,90 422.8,83.3 423,83.7 423.2,86 423.5,84.6 423.8,90.2 424,92.7 424.2,83.6 424.5,86.1 424.8,88 425,87.2 425.2,86.2 425.5,87.1 425.8,88.7 426,83.7 426.2,85.4 426.5,83.2 426.8,84 427,85.5 427.2,86.2 427.5,84.8 427.8,87.2 428,90 428.2,88.5 428.5,84.6 428.8,87.3 429,84.4 429.2,90.2 429.5,85.9 429.8,95.1 430,87 430.2,89.7 430.5,91.3 430.8,84.8 431,87.6 431.2,86.5 431.5,89 431.8,87 432,95.3 432.2,89.5 432.5,85 432.8,89.7 433,88.2 433.2,85.8 433.5,87.8 433.8,87.2 434,90.4 434.2,88.1 434.5,83.8 434.8,89.6 435,89.3 435.2,91.6 435.5,91.1 435.8,90.6 436,86 436.2,89.7 436.5,94.5 436.8,88.3 437,86.8 437.2,84.5 437.5,91.6 437.8,85.7 438,89.8 438.2,91.9 438.5,86.9 438.8,93.9 439,89.2 439.2,88.8 439.5,92.7 439.8,92.9 440,85.8 440.2,94.2 440.5,86.2 440.8,93 441,98.6 441.2,86 441.5,92.7 441.8,88.3 442,88.3 442.2,87.4 442.5,92 442.8,88.5 443,89.7 443.2,89.6 443.5,88.1 443.8,100.5 444,94.2 444.2,94.2 444.5,92.4 444.8,90.5 445,93.2 445.2,97.7 445.5,85.7 445.8,93.1 446,91.1 446.2,91 446.5,96.2 446.8,91.9 447,92.3 447.2,88.6 447.5,92.8 447.8,89.8 448,89.2 448.2,93.3 448.5,89.1 448.8,93.8 449,96.1 449.2,88.6 449.5,93.2 449.8,95.2 450,94 450.2,93 450.5,96.1 450.8,90.5 451,91.8 451.2,88.2 451.5,96.3 451.8,91.7 452,92.4 452.2,90.6 452.5,91.3 452.8,83.7 453,94.2 453.2,92 453.5,91.6 453.8,94.5 454,89.9 454.2,92 454.5,92.3 454.8,90.4 455,91.6 455.2,90.8 455.5,91.7 455.8,92.6 456,93.3 456.2,97.4 456.5,89.5 456.8,92.6 457,94.8 457.2,90.8 457.5,93.3 457.8,93.7 458,91.9 458.2,89.8 458.5,91.5 458.8,88.5 459,90.8 459.2,93.4 459.5,96 459.8,92.5 460,92.9 460.2,90.9 460.5,91.2 460.8,98.2 461,94 461.2,96 461.5,94.5 461.8,92.1 462,94.7 462.2,89.3 462.5,97.4 462.8,90.5 463,93.1 463.2,94 463.5,94.6 463.8,92.8 464,102.1 464.2,92.9 464.5,94.2 464.8,92.4 465,94.8 465.2,90.3 465.5,95.2 465.8,92.8 466,90.4 466.2,95 466.5,87.2 466.8,90.5 467,96.1 467.2,91.3 467.5,90.9 467.8,93.3 468,96.3 468.2,91.6 468.5,91.6 468.8,93.7 469,94.5 469.2,93.7 469.5,98 469.8,93.5 470,94 470.2,91.6 470.5,95.1 470.8,94.6 471,90 471.2,88.9 471.5,91.9 471.8,98.8 472,93.7 472.2,97 472.5,95.9 472.8,90.4 473,93 473.2,95.6 473.5,93.3 473.8,101.7 474,98.9 474.2,102.5 474.5,93.2 474.8,95.4 475,92 475.2,89.5 475.5,90.9 475.8,94.1 476,92.4 476.2,97.8 476.5,91.9 476.8,94.7 477,95.1 477.2,92.5 477.5,94.9 477.8,98.2 478,92.2 478.2,94.8 478.5,97 478.8,95.9 479,94.1 479.2,96.9 479.5,95.4 479.8,97 480,89.9 480.2,94.6 480.5,94.3 480.8,92.4 481,94.9 481.2,93.7 481.5,98.1 481.8,92.5 482,93.7 482.2,95.5 482.5,98 482.8,93 483,96.9 483.2,96.3 483.5,102.9 483.8,95.1 484,93.9 484.2,100.2 484.5,92.6 484.8,96.5 485,100.5 485.2,102.2 485.5,96.3 485.8,95.6 486,94.5 486.2,92.5 486.5,91.9 486.8,92.9 487,91.8 487.2,98.5 487.5,92.1 487.8,89.9 488,89.9 488.2,97.4 488.5,98.4 488.8,95.8 489,95.8 489.2,97.6 489.5,93 489.8,93.4 490,97 490.2,96.6 490.5,95 490.8,94 491,97.2 491.2,94.2 491.5,97.3 491.8,92.6 492,91.6 492.2,92.6 492.5,92.3 492.8,91.3 493,97.9 493.2,100.7 493.5,96.4 493.8,94.2 494,94.3 494.2,97.9 494.5,93.8 494.8,99.3 495,95.3 495.2,95.1 495.5,95.1 495.8,93.8 496,95.5 496.2,98.3 496.5,91.3 496.8,100.5 497,92.2 497.2,92.7 497.5,89.9 497.8,97.3 498,98.8 498.2,91.3 498.5,95 498.8,92.7 499,97.8 499.2,95 499.5,91.6 499.8,95.8 500,90.7 500.2,102.4 500.5,99.5 500.8,98.4 501,95.8 501.2,102.1 501.5,102.1 501.8,94.6 502,101.1 502.2,94.1 502.5,97.7 502.8,94.2 503,92.9 503.2,96 503.5,90.7 503.8,92.2 504,93.7 504.2,96.3 504.5,91.7 504.8,95 505,97.4 505.2,96.7 505.5,92.7 505.8,96.2 506,96.2 506.2,96.1 506.5,93.7 506.8,94.8 507,90.6 507.2,96.6 507.5,93 507.8,94 508,94.2 508.2,95.8 508.5,95.4 508.8,92 509,97.5 509.2,89.2 509.5,97.3 509.8,96.9 510,94.6 510.2,96.2 510.5,98.9 510.8,93.2 511,95.3 511.2,92.9 511.5,95.8 511.8,95.1 512,96 512.2,95 512.5,93.3 512.8,98.2 513,94.1 513.2,95.5 513.5,98.7 513.8,93.5 514,88.6" fill="none" stroke="#111" stroke-width="0.7" stroke-linejoin="round" />
<polyline points="314,64.5 314.5,66.4 315,67.7 315.5,69.2 316,70.5 316.5,72.4 317,74.5 317.5,75.1 318,77.9 318.5,76.7 319,77.7 319.5,78.5 320,78.4 320.5,80.6 321,81.3 321.5,82.1 322,81.5 322.5,81.9 323,82.7 323.5,83.3 324,84.1 324.5,84.4 325,85.1 325.5,84.9 326,85.8 326.5,86.2 327,86.1 327.5,88.6 328,87.6 328.5,88.3 329,87.7 329.5,88 330,88.5 330.5,88.9 331,89.6 331.5,91.1 332,89.7 332.5,89.8 333,91.5 333.5,91.5 334,90.8 334.5,91.7 335,92.1 335.5,91.5 336,92.5 336.5,93.5 337,92.2 337.5,93.3 338,93.8 338.5,93.7 339,94.7 339.5,94.7 340,94.4 340.5,95.8 341,96.1 341.5,96.5 342,97 342.5,96.7 343,96.9 343.5,96.5 344,98.5 344.5,97.3 345,97.7 345.5,96.4 346,98.8 346.5,98.5 347,99.6 347.5,98.3 348,98.8 348.5,99.9 349,100.8 349.5,100.7 350,99.7 350.5,99.6 351,101.4 351.5,101.1 352,101.2 352.5,102.5 353,102.8 353.5,102.6 354,103 354.5,103.4 355,105.2 355.5,104.2 356,104.4 356.5,104.8 357,104.1 357.5,104.5 358,106 358.5,106.1 359,105.2 359.5,106.2 360,107.3 360.5,107.7 361,107.4 361.5,108.3 362,107.4 362.5,109.1 363,110.4 363.5,108.8 364,109.3 364.5,109.8 365,109.8 365.5,111.4 366,110 366.5,110.4 367,111.4 367.5,111.1 368,111 368.5,112.2 369,112.7 369.5,112 370,111.9 370.5,112.8 371,113 371.5,113.2 372,114.2 372.5,112 373,114.6 373.5,113.6 374,114 374.5,115 375,116.4 375.5,116.7 376,115.5 376.5,114.3 377,115.9 377.5,117.8 378,116.2 378.5,116.6 379,117 379.5,116.9 380,117.5 380.5,117.7 381,118.6 381.5,118 382,117.8 382.5,118.1 383,120.1 383.5,119.1 384,117.6 384.5,119.1 385,120 385.5,117.9 386,118.8 386.5,119.6 387,119.8 387.5,119.9 388,120.6 388.5,120.4 389,120.3 389.5,120.1 390,121.7 390.5,120.8 391,120.5 391.5,120.9 392,120.9 392.5,121.2 393,120 393.5,121.2 394,122.1 394.5,122.3 395,121.9 395.5,122.5 396,122.6 396.5,123.1 397,121.6 397.5,122.4 398,122.6 398.5,123.2 399,123.6 399.5,121.8 400,123.7 400.5,122.6 401,123.7 401.5,122.7 402,123.6 402.5,124.2 403,123.7 403.5,123.9 404,124.3 404.5,124.1 405,124 405.5,124.9 406,124.8 406.5,124.2 407,125.8 407.5,124 408,125.1 408.5,124.6 409,124.9 409.5,125.3 410,125.1 410.5,125.4 411,124.4 411.5,124.5 412,124.5 412.5,123.3 413,125 413.5,124.9 414,126.4 414.5,127.9 415,126.7 415.5,125.6 416,126.1 416.5,125.7 417,126.7 417.5,127.2 418,126.1 418.5,127.4 419,127.2 419.5,126.8 420,126 420.5,127.8 421,127.1 421.5,127 422,127.6 422.5,127.7 423,128.3 423.5,127.1 424,128.3 424.5,128.6 425,128.7 425.5,128 426,127.8 426.5,128.8 427,128.4 427.5,127.4 428,129.3 428.5,128.6 429,127.7 429.5,128.7 430,128.1 430.5,129.6 431,129.5 431.5,129.1 432,129.5 432.5,130.1 433,129.8 433.5,130.6 434,130 434.5,130.7 435,131 435.5,130.1 436,130.2 436.5,131.1 437,129.8 437.5,130.3 438,130 438.5,131.7 439,130.6 439.5,131.4 440,131.4 440.5,131.6 441,131.4 441.5,131.8 442,132.7 442.5,131.9 443,132.2 443.5,132.5 444,132 444.5,131.6 445,130.8 445.5,132.9 446,131.6 446.5,132.2 447,133.1 447.5,134 448,132.7 448.5,133.2 449,132.9 449.5,132.3 450,133.9 450.5,132.8 451,133.6 451.5,133 452,132.9 452.5,133 453,131.2 453.5,133.5 454,133 454.5,132.8 455,132.6 455.5,134 456,133.6 456.5,133 457,134.5 457.5,134.1 458,133.2 458.5,134 459,134.7 459.5,134.4 460,135.1 460.5,134.1 461,135.3 461.5,135.2 462,135.8 462.5,135.6 463,137.3 463.5,134.4 464,136 464.5,136.3 465,135.6 465.5,135.7 466,137 466.5,135.2 467,134.9 467.5,137.5 468,136 468.5,136.9 469,137.6 469.5,136.7 470,137.1 470.5,137.4 471,136.6 471.5,137.1 472,137.4 472.5,137.8 473,137.5 473.5,137.5 474,137.2 474.5,138.5 475,138.3 475.5,138.1 476,137.7 476.5,137.8 477,139.6 477.5,139 478,138.8 478.5,138.8 479,139 479.5,139.1 480,139.8 480.5,139.3 481,139.1 481.5,139.5 482,138.4 482.5,140 483,139.7 483.5,139.3 484,140.5 484.5,140.8 485,139.3 485.5,139.7 486,140.2 486.5,140.2 487,140 487.5,139.8 488,141.4 488.5,140.9 489,139.8 489.5,139.8 490,141.4 490.5,141.1 491,141.5 491.5,141.1 492,140.3 492.5,140.9 493,139.7 493.5,140.5 494,140.9 494.5,141.2 495,139.6 495.5,141 496,141.4 496.5,141.4 497,141.6 497.5,141.4 498,141.2 498.5,141.8 499,141.5 499.5,141.1 500,142.7 500.5,141.6 501,141.6 501.5,141.8 502,141.8 502.5,141.9 503,141.8 503.5,141.3 504,142.2 504.5,142.5 505,142.3 505.5,142 506,142.4 506.5,141.7 507,141.3 507.5,142.4 508,141.9 508.5,142.8 509,141.9 509.5,141.2 510,142.1 510.5,143.4 511,142.5 511.5,142.1 512,142.4 512.5,144.2 513,143.1 513.5,143 514,143.7" fill="none" stroke="#444" stroke-width="1.25" stroke-linejoin="round" />
<polyline points="314,60.2 314.5,62.7 315,63.7 315.5,65.3 316,66.6 316.5,68.1 317,69.6 317.5,70 318,70.4 318.5,71 319,71.6 319.5,73 320,73.8 320.5,75 321,75.2 321.5,75.8 322,76.2 322.5,76.2 323,75.6 323.5,77.3 324,76.8 324.5,77.4 325,77.5 325.5,79.2 326,78.7 326.5,78.6 327,79.2 327.5,79.4 328,78.9 328.5,80.1 329,79.1 329.5,80.1 330,80.8 330.5,80.3 331,81 331.5,81.4 332,82 332.5,81.7 333,82.5 333.5,83.5 334,82.1 334.5,82.7 335,83.6 335.5,83.4 336,83.4 336.5,85 337,85.1 337.5,85.5 338,85.8 338.5,85.9 339,85.5 339.5,85.1 340,86.7 340.5,86.3 341,87.1 341.5,87.6 342,87.2 342.5,86.6 343,89.3 343.5,89.2 344,88.4 344.5,89.4 345,89.8 345.5,90.4 346,90.9 346.5,90.8 347,91.1 347.5,92 348,91.2 348.5,92.8 349,92.7 349.5,92.7 350,93 350.5,93.7 351,93.2 351.5,93.2 352,94.8 352.5,95.6 353,95.2 353.5,95.7 354,95.9 354.5,95.8 355,96.7 355.5,98.1 356,97.1 356.5,97.7 357,97.1 357.5,98 358,97.8 358.5,98.2 359,98.8 359.5,99 360,99.6 360.5,100 361,99.5 361.5,101.1 362,100.2 362.5,101.3 363,101.9 363.5,102.2 364,102.9 364.5,103.1 365,103.1 365.5,104.3 366,104.4 366.5,104.4 367,105.3 367.5,103.9 368,106.2 368.5,106.3 369,107 369.5,107.3 370,108.6 370.5,108.1 371,108.3 371.5,109 372,109.9 372.5,111.7 373,110 373.5,110.6 374,110.5 374.5,111 375,111.4 375.5,112.1 376,112.8 376.5,113.2 377,113 377.5,113.6 378,113.3 378.5,114.6 379,114.6 379.5,114.6 380,115.1 380.5,116.1 381,116.2 381.5,116.9 382,116.7 382.5,117.4 383,117.6 383.5,117.3 384,118.2 384.5,118.4 385,118.5 385.5,119.4 386,120.3 386.5,121.9 387,119.9 387.5,119.6 388,120.3 388.5,120.4 389,121 389.5,121.7 390,121.4 390.5,121.1 391,122.6 391.5,122.3 392,123.1 392.5,122.4 393,124.2 393.5,121.3 394,123.6 394.5,124.2 395,122.9 395.5,124 396,122.8 396.5,125.7 397,125.5 397.5,125 398,123.9 398.5,125.2 399,126.3 399.5,126.1 400,126.9 400.5,126.8 401,126.5 401.5,128.4 402,128 402.5,127.7 403,128.1 403.5,129.2 404,129.2 404.5,128.5 405,130 405.5,130.4 406,130.1 406.5,129.5 407,130 407.5,130.1 408,130.3 408.5,131.2 409,131.6 409.5,131.3 410,131.7 410.5,132.5 411,132.4 411.5,133.3 412,133.9 412.5,134.2 413,134 413.5,134.8 414,135 414.5,134.7 415,135.5 415.5,137 416,136.1 416.5,137.1 417,138 417.5,137.5 418,138 418.5,138.1 419,139 419.5,137.2 420,139.8 420.5,139.6 421,142.3 421.5,140 422,140.4 422.5,141.5 423,141.4 423.5,139.9 424,142.1 424.5,141.1 425,142.1 425.5,142.2 426,141.8 426.5,141.8 427,141.2 427.5,142.5 428,143.3 428.5,142 429,143.3 429.5,143.3 430,143.6 430.5,142.9 431,143.5 431.5,143.8 432,143.5 432.5,143.7 433,144 433.5,144.1 434,145 434.5,144.1 435,144.9 435.5,144.6 436,145.2 436.5,145.9 437,145.5 437.5,146.3 438,145.9 438.5,146.3 439,146.5 439.5,146.3 440,147.1 440.5,147.3 441,146.8 441.5,147.5 442,147.4 442.5,147.3 443,147.6 443.5,148.1 444,148.1 444.5,148.6 445,148.1 445.5,148.2 446,147.6 446.5,148.1 447,148.7 447.5,148.1 448,148.3 448.5,149.6 449,148.9 449.5,148.5 450,148.2 450.5,148.8 451,150.4 451.5,149.5 452,151.4 452.5,150 453,149.6 453.5,151.4 454,150.1 454.5,150 455,150.7 455.5,150 456,150.1 456.5,150.3 457,151.3 457.5,150.7 458,151.9 458.5,150.6 459,150.9 459.5,150.3 460,151.2 460.5,151.8 461,152.2 461.5,151.6 462,152 462.5,153 463,152.3 463.5,152.7 464,153.1 464.5,152.5 465,153.7 465.5,153.2 466,153.7 466.5,153.4 467,153.8 467.5,154.4 468,154.1 468.5,153.3 469,154.1 469.5,154.2 470,154.5 470.5,154.8 471,154.1 471.5,155.8 472,154.8 472.5,155.9 473,155.3 473.5,156.6 474,155.7 474.5,155.7 475,156.3 475.5,156.7 476,157.2 476.5,157.3 477,156.1 477.5,157.1 478,157.1 478.5,157 479,157.4 479.5,155.6 480,157 480.5,157.3 481,158.2 481.5,157.9 482,158.7 482.5,158 483,158.1 483.5,158.6 484,158.7 484.5,159.3 485,158.8 485.5,159.5 486,159.5 486.5,159.1 487,159.6 487.5,159.8 488,160.5 488.5,160.8 489,160.7 489.5,161.3 490,161 490.5,161 491,160.8 491.5,161.6 492,161.1 492.5,161.4 493,161.3 493.5,160.5 494,162.3 494.5,161.6 495,162.1 495.5,162.4 496,163 496.5,162.7 497,163.5 497.5,162.9 498,164.8 498.5,163.3 499,163.6 499.5,163.7 500,163.5 500.5,164 501,165.6 501.5,165.2 502,164.4 502.5,165.2 503,164.8 503.5,165.8 504,165.5 504.5,165.5 505,166.4 505.5,167.7 506,166.9 506.5,166.8 507,166.6 507.5,166.4 508,166.7 508.5,166.8 509,167.5 509.5,167.2 510,167.7 510.5,167.9 511,167.9 511.5,167.8 512,167.8 512.5,169.6 513,168.6 513.5,168.1 514,168.4" fill="none" stroke="#000" stroke-width="1.35" stroke-linejoin="round" />
<line x1="341.6" y1="3.5" x2="341.6" y2="205.4" stroke="#111" stroke-width="1.3"/>
<line x1="370.9" y1="3.5" x2="370.9" y2="205.4" stroke="#111" stroke-width="1.3"/>
<line x1="399.1" y1="3.5" x2="399.1" y2="205.4" stroke="#111" stroke-width="1.3"/>
<line x1="427.3" y1="3.5" x2="427.3" y2="205.4" stroke="#111" stroke-width="1.3"/>
<line x1="456.3" y1="3.5" x2="456.3" y2="205.4" stroke="#111" stroke-width="1.3"/>
<line x1="484.8" y1="3.5" x2="484.8" y2="205.4" stroke="#111" stroke-width="1.3"/>
<line x1="313.9" y1="50" x2="513.3" y2="50" stroke="#111" stroke-width="1.3"/>
<line x1="313.9" y1="88.9" x2="513.3" y2="88.9" stroke="#111" stroke-width="1.3"/>
<line x1="313.9" y1="127.8" x2="513.3" y2="127.8" stroke="#111" stroke-width="1.3"/>
<line x1="313.9" y1="166.7" x2="513.3" y2="166.7" stroke="#111" stroke-width="1.3"/>
<rect x="313.9" y="3.5" width="199.4" height="201.9" fill="none" stroke="#111" stroke-width="1.4"/>
<text x="309.6" y="55.3" font-size="13" font-weight="normal" text-anchor="end" fill="#111" >0</text>
<text x="309.6" y="94.2" font-size="13" font-weight="normal" text-anchor="end" fill="#111" >10</text>
<text x="309.6" y="133.1" font-size="13" font-weight="normal" text-anchor="end" fill="#111" >20</text>
<text x="309.6" y="172" font-size="13" font-weight="normal" text-anchor="end" fill="#111" >30</text>
<text x="309.6" y="210.7" font-size="13" font-weight="normal" text-anchor="end" fill="#111" >40</text>
<text x="341.6" y="219.6" font-size="13" font-weight="normal" text-anchor="middle" fill="#111" >2</text>
<text x="370.9" y="219.6" font-size="13" font-weight="normal" text-anchor="middle" fill="#111" >4</text>
<text x="399.1" y="219.6" font-size="13" font-weight="normal" text-anchor="middle" fill="#111" >6</text>
<text x="427.3" y="219.6" font-size="13" font-weight="normal" text-anchor="middle" fill="#111" >8</text>
<text x="456.3" y="219.6" font-size="13" font-weight="normal" text-anchor="middle" fill="#111" >10</text>
<text x="484.8" y="219.6" font-size="13" font-weight="normal" text-anchor="middle" fill="#111" >12</text>
<text x="513.3" y="219.6" font-size="13" font-weight="normal" text-anchor="middle" fill="#111" >14</text>
<text x="412.9" y="238.2" font-size="16.5" font-weight="bold" text-anchor="middle" fill="#000" >time (minutes)</text>
<text transform="translate(287,116.5) rotate(-90)" font-size="16.5" font-weight="bold" text-anchor="middle">percent aggregation</text>
<text x="275.5" y="18.2" font-size="24" font-weight="bold" text-anchor="start" fill="#000" >B</text>
<text x="499" y="76.5" font-size="13" font-weight="bold" text-anchor="middle" fill="#000" >a</text>
<text x="499" y="113" font-size="13" font-weight="bold" text-anchor="middle" fill="#000" >b</text>
<text x="499" y="137" font-size="13" font-weight="bold" text-anchor="middle" fill="#000" >c</text>
<text x="499" y="159" font-size="13" font-weight="bold" text-anchor="middle" fill="#000" >d</text>
<line x1="57.9" y1="270.4" x2="57.9" y2="455.7" stroke="#555" stroke-width="1.6"/>
<polyline points="58.4,340 58.2,341 58.7,341.4 58.7,342.1 58.6,343.3 58.4,343.2 58.4,343.9 58.6,344.7 58.4,345.6 58.6,346.8 58.4,347.3 58.9,348.1 58.6,348.3 58.7,348.9 59,350.3 59,350.9 59.1,351.4 58.6,352.1 58.9,353.2 58.7,354 58.9,353.9 59,355.4 59.1,356 59,356.4 58.8,357.6 59.1,357.6 59,358.7 59.3,359.8 59.1,360.2 59.3,360.5 59.5,361.5 59.5,362.6 59.3,363 59.5,363.4 59.3,364.4 59.3,365.1 59.3,365.9 59.5,366.7 59.6,367.6 59.4,368.1 59.6,368.3 59.6,369.4 59.3,370 59.7,371 59.6,371.9 59.6,371.9 59.6,373 60.3,372.3 60.8,371.5 61.1,370.9 61.3,369.7 61.4,369.2 61.3,369 61.9,368.5 61.8,367.8 62.1,366.9 62.4,366.4 62.4,365.4 62.3,366.3 62.8,367.1 62.8,368.1 62.9,368.8 63,368.9 63.1,370.4 63.5,370.8 63.6,371.4 64.4,372.1 64.9,373.4 65,373.8 65.2,373.2 65.5,372.4 65.8,371.3 65.8,370.5 65.7,370.2 66.1,369.2 66.1,368.1 66.3,368 66.2,366.9 66.7,366.5 66.4,365.9 66.6,364.9 67.1,364.7 66.7,363.2 67.1,362.8 66.9,362 67.4,361.2 67.3,360.8 67.6,361.6 67.7,362.3 68.1,362.7 68.3,363.4 68.5,364.6 68.4,363.5 68.8,363 69.1,362 69.4,361.6 69.6,360.8 69.6,360 70,359.9 70.7,358.9 71.2,358.5 71.4,357.8 71.6,356.6 71.9,356.2 71.9,355 71.9,354.8 72.2,353.8 72.2,353.1 72.4,352.2 72.1,351.2 72.6,351 72.7,350.4 72.6,349.3 72.7,348.7 72.6,347.9 72.8,347.6 72.9,346.9 72.5,345.9 72.8,344.8 72.9,343.9 72.7,343.8 73.2,343 73.2,342.6 72.9,341.2 73.2,340.5 73.2,340 73.4,339.3 73.1,339 73.2,338 73.4,337.5 73.1,336.3 73.6,335.8 73.3,335 73.4,334.4 73.3,333.6 73.2,333.1 73.6,331.9 73.5,331.5 73.7,331 74.4,329.7 74.7,329.2 75,328.5 75.2,328.1 75.7,327.2 76.2,326.8 76.8,326.4 77.3,325.4 77.5,326 78.4,326.2 78.8,327.2 79,326 79.1,325.4 78.9,325.2 79.5,324.4 79.1,323.8 79.2,323.1 79.4,322.2 79.4,321 79.8,320.7 79.9,319.6 79.9,319 80,318.1 80.4,317.4 80.1,316.6 80.4,316.2 80.4,315.3 80.5,315.1 80.5,313.9 80.9,313.7 80.7,312.9 80.7,312.2 81,310.9 81.1,310.5 81.1,310.3 81.2,309.1 81.2,308.5 81.7,309.1 81.6,310.1 82.3,310.9 82.4,311.5 82.7,311 82.7,310.4 82.9,309.3 82.9,308.7 82.8,307.7 82.8,307 82.8,306.7 83.2,306 83,305.1 83.1,304.1 83.2,303.9 83.7,302.6 83.3,302 83.9,301.1 83.9,300.8 83.6,300.3 83.9,299.2 83.9,299.6 84.3,300.6 84.6,301.5 84.8,302.7 85.3,302.9 85.3,303.8 85.6,304.9 85.6,305.8 85.9,306.1 86,306.7 85.9,307.7 86.2,308.5 86.3,307.4 86.6,307 86.2,306.8 86.5,305.5 86.6,304.5 86.4,304.7 86.6,303.4 86.8,302.7 86.6,301.9 86.6,301.8 87.1,300.6 86.8,300.4 87,299.5 87,298.2 87.1,297.5 87.4,296.8 87.1,296.1 87.3,295.7 87.3,295.5 87.5,294.2 87.5,293.4 87.7,292.7 87.9,292.1 87.8,291.5 87.9,290.9 88.3,290 88.7,289.3 88.8,288.5 88.9,288.1 89,287.3 89.5,286.4 89.4,285.4 89.4,285.1 89.5,283.7 89.8,283.1 90.1,282.7 90,282.2 90.4,281 90.5,281.8 90.6,282.8 90.8,283.3 90.9,284.1 90.9,284.2 91.3,284.8 91.3,285.7 91.5,286.4 91.5,287.1 91.3,288.1 91.6,288.5 92,289.5 91.9,290 92.3,290.3 93,291 92.9,291.5 93.5,292.3 93.8,292.7 93.7,293.9 93.9,294.9 94,295.1 94.2,296.3 94.2,296.2 94.6,297.4 94.5,297.6 94.7,299 94.7,299.7 94.9,299.9 95.2,301.2 95,301.9 95.4,301.9 95.3,303 95.6,303.9 96.2,303.8 96.2,305 96.8,305.4 96.9,306.5 97,307.2 97.1,307.5 97.3,308.2 97.3,309.2 97.4,310.1 97.9,310.6 98,310.9 97.8,311.5 98.3,312.6 98.5,313.1 98.2,313.8 98.8,315.2 98.8,315.1 98.8,316.2 99.2,316.9 99.5,317.3 100.1,318.2 100.4,319.2 100.5,320.1 100.6,320.9 100.8,321.4 101.1,321.6 100.8,322.7 101.1,323.6 100.9,323.8 101.3,325.1 101.5,325.2 101.5,326.4 101.4,326.7 101.5,328.2 101.9,328.5 102.3,329.4 103,329.7 103.5,330 103.4,330.7 103.9,331.8 103.9,331.9 103.8,332.5 104,334 104.3,334.6 104.4,335.1 104.5,335.3 104.7,336.8 104.3,337.5 104.6,338 104.7,338.2 104.6,339.1 104.6,340.1 105,340.8 105.4,341.3 105.5,341.8 105.2,343.1 105.4,343.4 105.4,344.5 105.6,345.1 105.9,345.7 106.1,346.4 106.1,347 106.1,347.7 106.2,349.1 106.5,349.2 106.3,350.4 106.5,350.8 106.7,349.9 106.9,349.3 107.3,348.9 107.5,347.7 108,346.9 108.2,347.7 108.1,348.7 108.5,349.4 108.6,349.7 108.2,351 108.6,351.2 108.7,352.1 108.7,353.1 108.8,353.8 108.7,354.4 109,355.1 109.2,356.2 109.4,356.6 109.2,357.4 109.5,358.1 109.6,358.5 109.5,359.2 109.6,360.2 109.8,360.5 110,361.1 110.1,362.4 110,363 110.9,363.8 111.9,363.8 112,364.3 112,365.6 112.4,365.8 112.3,366.5 112.3,366.9 112.9,367.7 112.8,368.7 113,369.2 113.1,370 113.2,370.8 113.1,371.4 113.5,372.4 113.7,372.9 113.5,373.7 113.7,373.9 113.8,375 113.8,376 114.1,376 114.2,377 114.2,377.5 114.6,378.9 114.3,379.6 114.7,380 115,381.1 114.8,381.4 115.2,382.3 115.4,383 115.3,383.5 115.2,384 115.5,385 115.7,386 116,386.8 115.7,387.5 116,387.9 116.1,388.1 116.2,389.2 116.5,389.7 117.1,390.6 117.6,391.3 118.1,391.5 118.5,392.2 118.6,393.2 118.6,393.5 118.9,394.6 118.9,395.1 119.1,396.1 119.4,396.3 119.2,396.8 119.6,398.2 119.6,398.5 119.7,399.5 119.8,399.9 120.1,400.4 120.4,401.3 120.2,401.8 120.8,402.6 120.6,403.2 121,403.5 121.2,404.6 121.5,404.4 122.3,403.5 122.5,404 122.6,405.2 122.9,405.2 123.1,405.8 123.5,406.9 123.9,407.4 123.8,407.9 123.6,409.4 123.9,410.2 124.4,410.5 124.1,411.2 124.2,411.6 124.7,412.9 124.6,412.9 125,414 125,414.5 125.1,415.2 125.2,416.2 125.6,416.7 126.1,417.4 126.4,417.9 126.8,418.7 127.4,419.8 127.5,420.2 127.7,421.3 128,421.8 128,422.2 128.3,423.3 128.4,423.6 128.8,424.1 128.5,425.4 128.9,425.9 128.8,426.8 129.2,427.1 130,427.3 131,427.7 131.1,428.4 131.5,429.3 131.8,430 131.9,430.3 132,430.5 132.7,432 132.7,432.3 132.8,433.3 133.1,433.7 133.2,434.6 133.7,434.9 134,435.5 134,436.3 134.1,437.5 134.4,438.1 134.7,438.8 135.1,439.6 135.7,440.2 136,440.6 136.2,441.6 136.7,442.1 137,443 137.8,443.5 138.1,444 138.9,444.7 139.1,445.2 139.6,445.6 140.1,446 140.5,446.9 140.7,447.3 141.3,447.9 142.2,448.3 143,448.4 143.4,449.2 144.2,449.4 145,449.4 145.6,449.4 146.5,450.1 147.1,449.5 147.7,449.8 148.1,450.4 149.1,450.3 150,450.4 150.7,451.2 151.1,451.3 151.6,452 152.3,452.1 153.1,452.7 153.7,452.3 154.6,453 155.5,453.3 156.4,453.6 157.4,454 158,453.8 158.7,453.8 159.6,454.2 160.5,454.4 161.1,454.3 161.9,454.3 162.7,454.2 163.4,454.5 164.1,454.7 164.9,454.2 165.5,454.3 166.4,454.5 167.3,455 168,455.2 168.8,454.7 169.1,454.7 170,455 170.7,455.3 171.3,455.5 172.2,455.4 173.2,455.2 173.7,455.6 174.3,455 175.4,455.3 176,455.5" fill="none" stroke="#111" stroke-width="1.3" stroke-linejoin="round" />
<rect x="56.6" y="270.4" width="184.9" height="185.3" fill="none" stroke="#1a1a1a" stroke-width="1.3"/>
<line x1="56.6" y1="270.4" x2="56.6" y2="456.3" stroke="#111" stroke-width="1.3"/>
<line x1="51.8" y1="455.7" x2="241.5" y2="455.7" stroke="#111" stroke-width="1.5"/>
<text x="49" y="458.9" font-size="9" font-weight="normal" text-anchor="end" fill="#222" >0</text>
<line x1="54.4" y1="447.4" x2="56.6" y2="447.4" stroke="#222" stroke-width="1.0"/>
<line x1="54.4" y1="439.1" x2="56.6" y2="439.1" stroke="#222" stroke-width="1.0"/>
<line x1="54.4" y1="430.8" x2="56.6" y2="430.8" stroke="#222" stroke-width="1.0"/>
<line x1="54.4" y1="422.5" x2="56.6" y2="422.5" stroke="#222" stroke-width="1.0"/>
<line x1="51.8" y1="414.1" x2="56.6" y2="414.1" stroke="#222" stroke-width="1.1"/>
<text x="49" y="417.3" font-size="9" font-weight="normal" text-anchor="end" fill="#222" >50</text>
<line x1="54.4" y1="405.8" x2="56.6" y2="405.8" stroke="#222" stroke-width="1.0"/>
<line x1="54.4" y1="397.5" x2="56.6" y2="397.5" stroke="#222" stroke-width="1.0"/>
<line x1="54.4" y1="389.2" x2="56.6" y2="389.2" stroke="#222" stroke-width="1.0"/>
<line x1="54.4" y1="380.9" x2="56.6" y2="380.9" stroke="#222" stroke-width="1.0"/>
<line x1="51.8" y1="372.6" x2="56.6" y2="372.6" stroke="#222" stroke-width="1.1"/>
<text x="49" y="375.8" font-size="9" font-weight="normal" text-anchor="end" fill="#222" >100</text>
<line x1="54.4" y1="364.3" x2="56.6" y2="364.3" stroke="#222" stroke-width="1.0"/>
<line x1="54.4" y1="356" x2="56.6" y2="356" stroke="#222" stroke-width="1.0"/>
<line x1="54.4" y1="347.7" x2="56.6" y2="347.7" stroke="#222" stroke-width="1.0"/>
<line x1="54.4" y1="339.4" x2="56.6" y2="339.4" stroke="#222" stroke-width="1.0"/>
<line x1="51.8" y1="331.1" x2="56.6" y2="331.1" stroke="#222" stroke-width="1.1"/>
<text x="49" y="334.2" font-size="9" font-weight="normal" text-anchor="end" fill="#222" >150</text>
<line x1="54.4" y1="322.7" x2="56.6" y2="322.7" stroke="#222" stroke-width="1.0"/>
<line x1="54.4" y1="314.4" x2="56.6" y2="314.4" stroke="#222" stroke-width="1.0"/>
<line x1="54.4" y1="306.1" x2="56.6" y2="306.1" stroke="#222" stroke-width="1.0"/>
<line x1="54.4" y1="297.8" x2="56.6" y2="297.8" stroke="#222" stroke-width="1.0"/>
<line x1="51.8" y1="289.5" x2="56.6" y2="289.5" stroke="#222" stroke-width="1.1"/>
<text x="49" y="292.7" font-size="9" font-weight="normal" text-anchor="end" fill="#222" >200</text>
<line x1="54.4" y1="281.2" x2="56.6" y2="281.2" stroke="#222" stroke-width="1.0"/>
<line x1="54.4" y1="272.9" x2="56.6" y2="272.9" stroke="#222" stroke-width="1.0"/>
<line x1="56.6" y1="455.7" x2="56.6" y2="460.9" stroke="#222" stroke-width="1.1"/>
<line x1="70.5" y1="455.7" x2="70.5" y2="458.3" stroke="#222" stroke-width="1.0"/>
<line x1="78.7" y1="455.7" x2="78.7" y2="458.3" stroke="#222" stroke-width="1.0"/>
<line x1="84.4" y1="455.7" x2="84.4" y2="458.3" stroke="#222" stroke-width="1.0"/>
<line x1="88.9" y1="455.7" x2="88.9" y2="458.3" stroke="#222" stroke-width="1.0"/>
<line x1="92.6" y1="455.7" x2="92.6" y2="458.3" stroke="#222" stroke-width="1.0"/>
<line x1="95.7" y1="455.7" x2="95.7" y2="458.3" stroke="#222" stroke-width="1.0"/>
<line x1="98.3" y1="455.7" x2="98.3" y2="458.3" stroke="#222" stroke-width="1.0"/>
<line x1="100.7" y1="455.7" x2="100.7" y2="458.3" stroke="#222" stroke-width="1.0"/>
<line x1="102.8" y1="455.7" x2="102.8" y2="460.9" stroke="#222" stroke-width="1.1"/>
<line x1="116.7" y1="455.7" x2="116.7" y2="458.3" stroke="#222" stroke-width="1.0"/>
<line x1="124.9" y1="455.7" x2="124.9" y2="458.3" stroke="#222" stroke-width="1.0"/>
<line x1="130.7" y1="455.7" x2="130.7" y2="458.3" stroke="#222" stroke-width="1.0"/>
<line x1="135.1" y1="455.7" x2="135.1" y2="458.3" stroke="#222" stroke-width="1.0"/>
<line x1="138.8" y1="455.7" x2="138.8" y2="458.3" stroke="#222" stroke-width="1.0"/>
<line x1="141.9" y1="455.7" x2="141.9" y2="458.3" stroke="#222" stroke-width="1.0"/>
<line x1="144.6" y1="455.7" x2="144.6" y2="458.3" stroke="#222" stroke-width="1.0"/>
<line x1="146.9" y1="455.7" x2="146.9" y2="458.3" stroke="#222" stroke-width="1.0"/>
<line x1="149.1" y1="455.7" x2="149.1" y2="460.9" stroke="#222" stroke-width="1.1"/>
<line x1="163" y1="455.7" x2="163" y2="458.3" stroke="#222" stroke-width="1.0"/>
<line x1="171.1" y1="455.7" x2="171.1" y2="458.3" stroke="#222" stroke-width="1.0"/>
<line x1="176.9" y1="455.7" x2="176.9" y2="458.3" stroke="#222" stroke-width="1.0"/>
<line x1="181.4" y1="455.7" x2="181.4" y2="458.3" stroke="#222" stroke-width="1.0"/>
<line x1="185" y1="455.7" x2="185" y2="458.3" stroke="#222" stroke-width="1.0"/>
<line x1="188.1" y1="455.7" x2="188.1" y2="458.3" stroke="#222" stroke-width="1.0"/>
<line x1="190.8" y1="455.7" x2="190.8" y2="458.3" stroke="#222" stroke-width="1.0"/>
<line x1="193.2" y1="455.7" x2="193.2" y2="458.3" stroke="#222" stroke-width="1.0"/>
<line x1="195.3" y1="455.7" x2="195.3" y2="460.9" stroke="#222" stroke-width="1.1"/>
<line x1="209.2" y1="455.7" x2="209.2" y2="458.3" stroke="#222" stroke-width="1.0"/>
<line x1="217.3" y1="455.7" x2="217.3" y2="458.3" stroke="#222" stroke-width="1.0"/>
<line x1="223.1" y1="455.7" x2="223.1" y2="458.3" stroke="#222" stroke-width="1.0"/>
<line x1="227.6" y1="455.7" x2="227.6" y2="458.3" stroke="#222" stroke-width="1.0"/>
<line x1="231.2" y1="455.7" x2="231.2" y2="458.3" stroke="#222" stroke-width="1.0"/>
<line x1="234.3" y1="455.7" x2="234.3" y2="458.3" stroke="#222" stroke-width="1.0"/>
<line x1="237" y1="455.7" x2="237" y2="458.3" stroke="#222" stroke-width="1.0"/>
<line x1="239.4" y1="455.7" x2="239.4" y2="458.3" stroke="#222" stroke-width="1.0"/>
<line x1="241.5" y1="455.7" x2="241.5" y2="460.9" stroke="#222" stroke-width="1.1"/>
<text x="55.9" y="472.9" font-size="8.5" fill="#222" text-anchor="middle">10<tspan dy="-3.8" font-size="6.5">0</tspan></text>
<text x="102.1" y="472.9" font-size="8.5" fill="#222" text-anchor="middle">10<tspan dy="-3.8" font-size="6.5">1</tspan></text>
<text x="148.4" y="472.9" font-size="8.5" fill="#222" text-anchor="middle">10<tspan dy="-3.8" font-size="6.5">2</tspan></text>
<text x="194.6" y="472.9" font-size="8.5" fill="#222" text-anchor="middle">10<tspan dy="-3.8" font-size="6.5">3</tspan></text>
<text x="240.8" y="472.9" font-size="8.5" fill="#222" text-anchor="middle">10<tspan dy="-3.8" font-size="6.5">4</tspan></text>
<line x1="140.5" y1="443.2" x2="241.5" y2="443.2" stroke="#111" stroke-width="2.0"/>
<line x1="140.5" y1="440" x2="140.5" y2="445.5" stroke="#111" stroke-width="1.0"/>
<line x1="241.5" y1="440.7" x2="241.5" y2="445.7" stroke="#111" stroke-width="1.6"/>
<text x="239.2" y="438.2" font-size="8.5" font-weight="normal" text-anchor="end" fill="#222" >1.03</text>
<text x="145" y="490.5" font-size="16.5" font-weight="bold" text-anchor="middle" fill="#000" >CD62P-PE</text>
<text transform="translate(24.8,366.6) rotate(-90)" font-size="16.5" font-weight="bold" text-anchor="middle">platelet count</text>
<text x="1.3" y="283.3" font-size="24" font-weight="bold" text-anchor="start" fill="#000" >C</text>
<polyline points="330,372.3 331.1,372.3 331.7,371.9 332.2,371.1 332.6,370 333,369.3 333.8,368.5 334,369 334.4,369.9 334.7,370.7 334.7,371.8 334.9,372.3 335.2,371.2 335.3,370.5 335.3,369.8 335.5,369.2 335.5,368.8 335.7,368.1 335.9,367.6 336.3,367.1 336.3,366.1 336.4,365.2 336.5,364.6 336.7,363.5 336.9,363.1 336.8,362.6 336.5,361.6 336.7,360.6 337,360.2 337,359.1 337.2,358.7 337.2,358.3 336.9,357.6 337.3,356.9 337.4,355.7 337.3,355.6 337.2,354.4 337.4,353.8 337.6,352.9 337.5,352.3 338.2,351.9 338.8,350.8 338.7,350.1 338.8,349.7 339.2,348.4 339.4,347.7 339.3,347.6 339.5,346.8 339.3,345.6 339.8,345.5 339.7,344.2 339.9,343.6 340,343 340,342.5 340.3,341.2 339.9,340.8 339.9,340.4 340,339.8 340.1,339 340.2,338 340.2,337.7 340.5,336.6 340.4,336.4 340.1,335.5 340.3,334.6 340.1,335.1 340.4,335.9 340.9,336.4 340.4,337.6 340.8,338.3 340.9,338.7 341.2,340 341.3,340.2 341.4,341.4 341.1,341.9 341.4,342.4 341.4,343.4 341.4,344.1 341.5,344.9 341.8,345.4 341.9,344.3 342.1,343.8 342.2,343.7 342.2,342.3 342.8,342.1 342.7,341 342.8,340.9 343,340.2 343,339.4 343.5,338.3 343.4,337.7 343.3,337 343.5,336.1 343.8,335.3 343.7,335.2 344.2,333.8 344,333.6 344.4,332.4 344.6,331.8 344.7,331.3 345,330.7 344.9,330 345.3,329.5 345.7,328.6 346.1,327.7 346.5,326.9 346.9,326.3 346.6,325.8 346.8,324.6 347,324.4 347,323.8 347.2,322.6 347.2,321.8 347.1,321.6 347.3,321 347.8,319.6 347.7,319.2 348,320.3 348.1,320.5 347.9,321.8 348.3,322.1 348.2,323 348.3,324 348.4,324.6 348.8,325.4 349.1,324.3 349.1,323.6 349.4,323.4 349.1,322.8 349.4,321.4 349.6,321.5 349.7,320.7 349.5,319.8 349.6,319.4 349.9,318.8 349.8,317.4 350.2,316.8 350.3,316.2 350.5,315.9 350.4,315.2 350.5,314.3 351,313.5 350.9,312.4 351,312.4 351.3,311 351.7,310.2 351.5,309.9 351.8,309.2 352.4,310 353.1,310.2 353.4,310.8 353.2,310.5 353.6,309.3 353.8,308.9 353.5,307.9 353.9,307.3 354,306.4 353.9,305.5 353.8,305.1 354.1,304.1 354,303.4 354.5,302.5 354.6,302.7 354.2,301.2 354.5,300.8 354.6,299.9 354.9,299.1 355.7,298.5 355.7,297.7 355.6,296.9 355.9,296.7 355.9,295.3 355.7,294.6 355.9,294.4 356.2,293.4 356.1,293.1 356,292.5 356.3,291.1 356.4,291 356.4,289.6 356.3,289.6 356.5,288.5 356.6,288 356.7,287.3 356.8,286 356.9,285.5 356.9,285.2 357.4,284.1 357.2,283.6 357.2,282.5 357.2,282.3 357.4,281.3 357.7,280.8 358,281.3 358.2,282.3 358.1,283.1 358.5,284.3 358.9,284.8 358.8,285.4 359,284.5 359.3,283.8 359.8,283.1 359.9,283.8 360.1,284.6 360.1,284.9 360.3,286.2 360.4,286.6 360.2,287 360.4,288.2 360.5,289.1 360.5,289 361.1,290.1 361.2,290.4 361.1,291.5 361.5,292.4 362.2,292.5 363.1,293.1 363.2,294 363.4,294.5 363.4,295 363.8,296 363.9,296.5 364.1,296.9 364.1,297.6 364,299 364.3,299.6 364.6,300 365,299.4 365.1,298.6 364.9,298.1 365.2,297.4 365.3,295.7 365.6,295.1 365.7,294.6 366,295 365.9,296.2 365.9,296.9 365.9,297.2 365.8,298.4 366.3,298.7 365.9,299.7 366.1,299.9 366.1,301.2 366.5,301.5 366.3,302.1 366.6,303.1 366.4,303.8 366.3,304.2 366.7,304.9 366.4,305.8 366.5,306.8 366.9,307.7 366.6,308.1 366.6,309 366.6,309.6 367,310.4 367,310.6 367.2,311.9 366.9,312.8 367.2,313 367.4,313.5 367.2,314.6 367.3,314.1 367.3,312.9 367.5,312.2 367.3,311.8 367.6,311.1 367.6,310.7 368,309.4 368.1,309 367.9,307.9 368.2,307.3 368.1,307 368.1,306.3 368.5,305.1 368.4,304.1 368.3,304.1 368.5,303.4 368.8,302.2 369,301.4 368.8,300.8 369.1,300.5 369.4,298.8 369.6,298.2 369.7,297.3 370.3,296.9 370.7,298.1 370.7,298.7 371.4,299.1 371.5,299.8 371.8,300.8 371.7,301.4 372.1,302.2 372.2,303.3 372.2,303.6 372,304 372.2,305.4 372.5,305.7 372.6,306.6 372.3,307.4 372.4,308.3 372.4,309 372.8,309.3 372.8,310.1 372.8,310.9 372.9,311.5 373.2,311.9 373.2,312.7 373.1,313.5 373.2,314.8 373.4,314.9 373.2,315.5 373.2,316.2 373.6,317.5 373.5,318.4 373.7,318.8 373.9,319.6 373.5,320.3 374.1,321.2 373.8,321.8 374.1,322.7 373.9,323 374.2,323.7 374.2,324.6 374.3,323.9 374.4,323.1 374.7,321.9 374.6,321.4 375.3,320.5 375.2,319.8 375.4,319.2 375.6,319.8 375.9,321 375.6,321 376.2,322.1 376.4,323 376.3,323.7 376.4,324 376.9,324.3 376.9,325.4 377.1,326.3 376.8,327 377.2,327.5 377,328.5 377,328.9 377.1,329.3 377.2,330.2 376.8,330.9 377,332 376.9,332.4 376.8,333.6 377,334.2 376.9,334.6 377,335.8 377,336.1 376.9,337.3 377,337.5 377.3,338.9 376.9,338.9 377.2,340 377.5,340.4 377.5,341.5 377.5,342 377.5,342.4 377.4,343.1 377.7,343.8 377.5,345.2 377.6,345.3 377.9,346.4 377.6,347.1 377.8,347.5 377.9,348.6 378,349.2 378.2,349.9 378.3,350.4 378.1,351.4 378.6,351.9 378.4,353.2 378.6,354 378.6,355.1 378.8,355.4 378.8,356.1 378.8,356.9 378.9,357.9 379.4,358.2 379.6,359.3 379.2,359.4 379.6,359.9 379.9,361.2 379.8,361.4 380.2,362.6 380.3,363.4 379.9,364.1 380.3,364.6 380.5,365.5 380.8,366.2 380.9,367.1 380.6,367.2 380.9,368.5 380.9,368.8 381.5,369.1 381.6,370 381.7,370.8 381.5,372 381.8,372.3 382.2,373.1 382.5,373.5 382.7,374.1 383.4,374.9 383.5,375.2 384,376.2 384.2,376.9 384.4,377.8 384.5,378.4 384.3,379 384.5,380.1 384.6,380.2 384.8,380.9 384.5,382 384.7,382.9 384.9,383.5 385,383.8 385.3,384.5 384.9,385.6 385.2,386.2 385.4,387.4 385.8,387.5 386.1,388.7 386.3,389.6 386.3,389.7 386.5,390.8 386.9,391.7 387.4,392.1 387.3,393 387.9,393.8 388.3,393.9 388.5,395.1 388.8,395.4 388.9,396.5 389.6,397.3 389.6,398 390.2,398.3 390.3,399.2 391.1,399.9 391.8,400 391.7,400.4 392.1,401.7 392.4,401.9 392.4,402.9 392.9,403.1 392.9,403.9 393.1,404.4 393.1,405.2 393.2,406.2 393.5,406.9 393.7,407.9 393.9,408.6 393.8,409.4 394,409.7 393.9,410.6 394,410.9 394.3,411.8 394.5,412.5 394.8,412.9 394.7,413.8 394.6,414.9 395.1,415.3 395.1,416.1 395.3,417 395.2,417.3 395.6,418.2 396.2,418.2 396.4,419.3 396.9,419.6 397.5,420.3 397.9,421 398.4,421.5 399.2,421.9 399.2,422.5 399.7,422.9 399.6,423.6 399.7,424.5 400,425 400.3,425.6 400.3,427.1 400.6,427.3 400.7,427.8 401,428.8 401.2,429.4 401.3,430.3 401.1,431.1 401.6,431.5 401.4,432.7 401.4,433.1 401.6,433.8 402.1,434.6 401.9,435.7 401.8,436.3 402.1,436.9 402.5,437.9 403.3,438 403.8,438.6 404.9,438.4 405.6,438.1 405.8,438.8 406.1,439.2 406.4,440.3 406.6,441.2 406.7,441.9 406.9,442.4 407.1,443 407,443.9 407.3,444.4 407.5,445.3 408,445.2 408.8,446 409,446.7 409.6,446.7 410.8,447.4 411.3,447.3 411.9,448 412.3,448.8 412.5,448.7 413.4,449.2 413.6,450.2 414.5,450.6 414.9,450.3 415.7,450.5 416.3,450.3 417.1,450.7 417.8,450.7 418.3,451.4 419.4,451.9 420,451.9 420.4,452.1 421.5,452.5 421.9,452.7 423,452.5 423.4,453 424,453.4 424.5,453.1 425.6,453.9 426.3,453.8 426.8,453.9 427.6,453.8 428.1,454.4 429.1,454.3 429.7,454.7 430.4,454.1 431.3,454.5 432.1,454.3 432.7,454.2 433.3,454.5 434,454.5 434.5,454.9 435.3,455.2 436.1,455.1 437,455.2 437.4,454.9 438.4,455.5 438.9,455.3 439.8,455.6 440.8,455.3 441.2,455.4 441.9,455.1 442.6,455 443.6,455.8 444.2,455.5 445,455.6" fill="none" stroke="#111" stroke-width="1.3" stroke-linejoin="round" />
<rect x="329.4" y="271" width="184.1" height="185" fill="none" stroke="#1a1a1a" stroke-width="1.3"/>
<line x1="329.4" y1="271" x2="329.4" y2="456.6" stroke="#111" stroke-width="2.4"/>
<line x1="324.6" y1="456" x2="513.5" y2="456" stroke="#111" stroke-width="1.5"/>
<text x="320.8" y="459.2" font-size="9" font-weight="normal" text-anchor="end" fill="#222" >0</text>
<line x1="327.2" y1="447.5" x2="329.4" y2="447.5" stroke="#222" stroke-width="1.0"/>
<line x1="327.2" y1="439" x2="329.4" y2="439" stroke="#222" stroke-width="1.0"/>
<line x1="327.2" y1="430.6" x2="329.4" y2="430.6" stroke="#222" stroke-width="1.0"/>
<line x1="327.2" y1="422.1" x2="329.4" y2="422.1" stroke="#222" stroke-width="1.0"/>
<line x1="324.6" y1="413.6" x2="329.4" y2="413.6" stroke="#222" stroke-width="1.1"/>
<text x="320.8" y="416.8" font-size="9" font-weight="normal" text-anchor="end" fill="#222" >50</text>
<line x1="327.2" y1="405.1" x2="329.4" y2="405.1" stroke="#222" stroke-width="1.0"/>
<line x1="327.2" y1="396.6" x2="329.4" y2="396.6" stroke="#222" stroke-width="1.0"/>
<line x1="327.2" y1="388.2" x2="329.4" y2="388.2" stroke="#222" stroke-width="1.0"/>
<line x1="327.2" y1="379.7" x2="329.4" y2="379.7" stroke="#222" stroke-width="1.0"/>
<line x1="324.6" y1="371.2" x2="329.4" y2="371.2" stroke="#222" stroke-width="1.1"/>
<text x="320.8" y="374.4" font-size="9" font-weight="normal" text-anchor="end" fill="#222" >100</text>
<line x1="327.2" y1="362.7" x2="329.4" y2="362.7" stroke="#222" stroke-width="1.0"/>
<line x1="327.2" y1="354.2" x2="329.4" y2="354.2" stroke="#222" stroke-width="1.0"/>
<line x1="327.2" y1="345.8" x2="329.4" y2="345.8" stroke="#222" stroke-width="1.0"/>
<line x1="327.2" y1="337.3" x2="329.4" y2="337.3" stroke="#222" stroke-width="1.0"/>
<line x1="324.6" y1="328.8" x2="329.4" y2="328.8" stroke="#222" stroke-width="1.1"/>
<text x="320.8" y="332" font-size="9" font-weight="normal" text-anchor="end" fill="#222" >150</text>
<line x1="327.2" y1="320.3" x2="329.4" y2="320.3" stroke="#222" stroke-width="1.0"/>
<line x1="327.2" y1="311.8" x2="329.4" y2="311.8" stroke="#222" stroke-width="1.0"/>
<line x1="327.2" y1="303.4" x2="329.4" y2="303.4" stroke="#222" stroke-width="1.0"/>
<line x1="327.2" y1="294.9" x2="329.4" y2="294.9" stroke="#222" stroke-width="1.0"/>
<line x1="324.6" y1="286.4" x2="329.4" y2="286.4" stroke="#222" stroke-width="1.1"/>
<text x="320.8" y="289.6" font-size="9" font-weight="normal" text-anchor="end" fill="#222" >200</text>
<line x1="327.2" y1="277.9" x2="329.4" y2="277.9" stroke="#222" stroke-width="1.0"/>
<line x1="329.4" y1="456" x2="329.4" y2="461.2" stroke="#222" stroke-width="1.1"/>
<line x1="343.3" y1="456" x2="343.3" y2="458.6" stroke="#222" stroke-width="1.0"/>
<line x1="351.4" y1="456" x2="351.4" y2="458.6" stroke="#222" stroke-width="1.0"/>
<line x1="357.1" y1="456" x2="357.1" y2="458.6" stroke="#222" stroke-width="1.0"/>
<line x1="361.6" y1="456" x2="361.6" y2="458.6" stroke="#222" stroke-width="1.0"/>
<line x1="365.2" y1="456" x2="365.2" y2="458.6" stroke="#222" stroke-width="1.0"/>
<line x1="368.3" y1="456" x2="368.3" y2="458.6" stroke="#222" stroke-width="1.0"/>
<line x1="371" y1="456" x2="371" y2="458.6" stroke="#222" stroke-width="1.0"/>
<line x1="373.3" y1="456" x2="373.3" y2="458.6" stroke="#222" stroke-width="1.0"/>
<line x1="375.4" y1="456" x2="375.4" y2="461.2" stroke="#222" stroke-width="1.1"/>
<line x1="389.3" y1="456" x2="389.3" y2="458.6" stroke="#222" stroke-width="1.0"/>
<line x1="397.4" y1="456" x2="397.4" y2="458.6" stroke="#222" stroke-width="1.0"/>
<line x1="403.1" y1="456" x2="403.1" y2="458.6" stroke="#222" stroke-width="1.0"/>
<line x1="407.6" y1="456" x2="407.6" y2="458.6" stroke="#222" stroke-width="1.0"/>
<line x1="411.2" y1="456" x2="411.2" y2="458.6" stroke="#222" stroke-width="1.0"/>
<line x1="414.3" y1="456" x2="414.3" y2="458.6" stroke="#222" stroke-width="1.0"/>
<line x1="417" y1="456" x2="417" y2="458.6" stroke="#222" stroke-width="1.0"/>
<line x1="419.3" y1="456" x2="419.3" y2="458.6" stroke="#222" stroke-width="1.0"/>
<line x1="421.4" y1="456" x2="421.4" y2="461.2" stroke="#222" stroke-width="1.1"/>
<line x1="435.3" y1="456" x2="435.3" y2="458.6" stroke="#222" stroke-width="1.0"/>
<line x1="443.4" y1="456" x2="443.4" y2="458.6" stroke="#222" stroke-width="1.0"/>
<line x1="449.2" y1="456" x2="449.2" y2="458.6" stroke="#222" stroke-width="1.0"/>
<line x1="453.6" y1="456" x2="453.6" y2="458.6" stroke="#222" stroke-width="1.0"/>
<line x1="457.3" y1="456" x2="457.3" y2="458.6" stroke="#222" stroke-width="1.0"/>
<line x1="460.3" y1="456" x2="460.3" y2="458.6" stroke="#222" stroke-width="1.0"/>
<line x1="463" y1="456" x2="463" y2="458.6" stroke="#222" stroke-width="1.0"/>
<line x1="465.4" y1="456" x2="465.4" y2="458.6" stroke="#222" stroke-width="1.0"/>
<line x1="467.5" y1="456" x2="467.5" y2="461.2" stroke="#222" stroke-width="1.1"/>
<line x1="481.3" y1="456" x2="481.3" y2="458.6" stroke="#222" stroke-width="1.0"/>
<line x1="489.4" y1="456" x2="489.4" y2="458.6" stroke="#222" stroke-width="1.0"/>
<line x1="495.2" y1="456" x2="495.2" y2="458.6" stroke="#222" stroke-width="1.0"/>
<line x1="499.6" y1="456" x2="499.6" y2="458.6" stroke="#222" stroke-width="1.0"/>
<line x1="503.3" y1="456" x2="503.3" y2="458.6" stroke="#222" stroke-width="1.0"/>
<line x1="506.4" y1="456" x2="506.4" y2="458.6" stroke="#222" stroke-width="1.0"/>
<line x1="509" y1="456" x2="509" y2="458.6" stroke="#222" stroke-width="1.0"/>
<line x1="511.4" y1="456" x2="511.4" y2="458.6" stroke="#222" stroke-width="1.0"/>
<line x1="513.5" y1="456" x2="513.5" y2="461.2" stroke="#222" stroke-width="1.1"/>
<text x="328.7" y="473.2" font-size="8.5" fill="#222" text-anchor="middle">10<tspan dy="-3.8" font-size="6.5">0</tspan></text>
<text x="374.7" y="473.2" font-size="8.5" fill="#222" text-anchor="middle">10<tspan dy="-3.8" font-size="6.5">1</tspan></text>
<text x="420.8" y="473.2" font-size="8.5" fill="#222" text-anchor="middle">10<tspan dy="-3.8" font-size="6.5">2</tspan></text>
<text x="466.8" y="473.2" font-size="8.5" fill="#222" text-anchor="middle">10<tspan dy="-3.8" font-size="6.5">3</tspan></text>
<text x="512.8" y="473.2" font-size="8.5" fill="#222" text-anchor="middle">10<tspan dy="-3.8" font-size="6.5">4</tspan></text>
<line x1="413.6" y1="442.6" x2="513.5" y2="442.6" stroke="#111" stroke-width="2.0"/>
<line x1="413.6" y1="437.7" x2="413.6" y2="448" stroke="#111" stroke-width="1.0"/>
<line x1="513.5" y1="440.1" x2="513.5" y2="445.1" stroke="#111" stroke-width="1.6"/>
<text x="511.2" y="437.6" font-size="8.5" font-weight="normal" text-anchor="end" fill="#222" >0.83</text>
<text x="415.2" y="490.5" font-size="16.5" font-weight="bold" text-anchor="middle" fill="#000" >CD62P-PE</text>
<text transform="translate(295.7,366.6) rotate(-90)" font-size="16.5" font-weight="bold" text-anchor="middle">platelet count</text>
<text x="275.1" y="282.5" font-size="24" font-weight="bold" text-anchor="start" fill="#000" >D</text>
<line x1="56.2" y1="517" x2="56.2" y2="702.5" stroke="#666" stroke-width="1.7"/>
<polyline points="56.4,612 57.2,612 57.8,612.7 57.9,613.6 58.3,614.6 58.8,615.4 58.9,615.8 59.1,615.3 59.5,614.6 59.6,613.5 59.9,612.7 60.2,611.9 60.5,611.2 60.5,610.1 60.9,609.8 61.3,609.1 61.6,608.4 61.7,607.3 61.9,608 62.6,608.4 62.9,609.6 63.3,610.6 63.1,610.7 63.2,611.5 63.4,612.5 63.5,613.4 64,614.4 64,615 64.2,614.7 64.2,613.2 64,612.5 64.3,612.3 64.6,611.1 64.5,610.8 64.5,609.8 64.5,609.6 64.9,608.3 64.7,607.8 64.8,607.3 64.7,606.3 65.2,605.8 65.1,605 64.9,604.5 65.4,603.2 65.4,602.8 65.3,602.5 65.7,601.8 65.5,601.1 65.7,599.9 65.5,598.9 65.8,598.1 66.1,597.9 65.8,597.2 66.1,596.2 65.9,596 66.5,595.1 66.3,594.2 66.8,593.1 67,593.1 67.3,592.2 67.5,591.2 68.2,590.8 68.6,589.6 68.7,588.9 68.9,588.3 68.8,587.2 69,586.8 69.1,586.1 69.4,585 69.9,583.9 69.9,583.7 70.1,582.9 70.5,581.6 70.9,581.2 71.3,580.2 71.5,579.7 71.4,578.9 71.7,577.7 71.9,577.2 72,577 72.2,575.8 72.8,576.5 73.2,577.3 73.6,576.6 74.1,575.5 74.3,574.7 74.7,574.4 74.8,573.5 74.9,573.2 74.9,572 74.9,571.2 75.3,570.8 74.9,569.8 75.3,569.2 75.1,568.1 75.1,567.6 75.6,567.1 75.6,566.6 75.4,565.7 75.6,564.5 75.7,563.9 75.4,563 75.5,563 75.6,562 75.8,561.2 75.7,560.6 75.7,560.1 75.9,559.4 75.9,558 76,557.3 76.2,557.3 76.2,555.8 76.2,555.4 76.5,554.3 76.2,553.9 76.2,552.8 76.5,552.7 76.6,552 76.7,550.8 76.8,550.7 76.5,549.9 76.8,548.8 76.7,547.7 77.1,546.9 77,546.9 77.4,545.6 77.5,544.6 77.2,544.6 77.7,543 77.8,543 77.6,541.9 77.8,541.2 78.3,540 78.1,539.9 78.4,538.9 78.9,538.1 78.9,538.5 79.2,539.3 79,540 79.4,541.5 79.5,541.5 79.6,542.6 79.4,543.3 79.7,544.7 79.8,545 79.7,544.4 80.2,543.1 80.5,542.7 80.1,542.1 80.3,541.3 80.5,539.9 80.6,539.5 80.9,538.8 81.3,538 81.6,537.4 82.3,537.2 82.5,536.5 82.9,537.2 82.9,537.8 82.9,539.1 83.3,539.5 83.1,540.3 83.5,541.2 83.5,540.9 83.7,539.4 83.8,539.3 83.7,538.6 84.3,538 84.1,536.6 84.2,536.4 84.5,535.7 84.5,534.7 84.9,533.8 84.8,533.5 84.9,533.2 85.1,532.3 85.2,530.9 85.4,530.8 85.8,529.6 86.2,530.3 86.7,531.4 87.1,531.9 87.4,532.1 88.2,533.4 88.6,533.5 88.7,534.6 89.1,535.1 89.2,536.1 89.7,536.9 89.7,537.3 89.9,536.9 89.9,535.8 90.1,535 90.2,534.5 90.2,533.5 90.1,533.1 90.3,531.9 90.2,531.5 90.5,530.9 90.5,530.5 90.8,529.4 90.8,528.9 90.7,527.9 90.9,527.3 91.2,527.9 91,528.3 91.1,529.5 91.4,530 91.6,530.7 91.7,531.8 91.7,532 92,532.9 92.1,533.6 92.2,534.2 92.1,535.2 92.4,535.8 92.6,536.4 92.3,537.5 92.3,538.1 92.7,538.9 92.8,539.7 92.5,540.1 92.7,540.5 92.5,541.1 92.8,541.9 92.7,543.1 92.7,543.4 92.8,544.7 92.9,545 93.3,546 93.1,546.5 93.2,547.3 93.4,546.7 93.4,545.9 93.4,545.3 93.6,544.3 93.5,543.8 93.5,542.9 94.1,542 93.8,541.6 94,540.8 94.3,540.6 94.3,539.6 94.6,538.6 94.5,537.7 94.8,537.6 95,536.8 95.3,535.8 95.2,535 95.3,535.6 95.1,536.1 95.4,537.4 95.7,538 95.5,538.5 95.8,539.3 95.9,539.6 96.1,540.7 95.9,541.4 95.9,542.5 96.1,542.9 96.3,543.4 96.1,543.9 96.1,545.1 96.3,545.8 96.2,546.5 96.6,547.5 96.7,547.6 96.3,548.8 96.5,549.3 96.9,550.5 96.7,550.7 96.8,551.3 96.9,551.8 96.8,552.9 97.2,553.8 96.9,554.1 97.1,555 97.4,556 97.1,556.2 97.5,557.3 97.5,557.6 97.7,558.7 98.1,559.3 98,559.9 98.1,560.7 98,561.8 98.3,561.8 98.3,562.7 98.3,563.6 98.6,564.2 98.9,564.6 98.8,565.3 98.7,566.7 98.9,567.5 99,568.1 98.9,568.4 99.1,569.2 99.3,569.8 99.4,570.9 99.4,571.2 99.5,572 99.3,573.2 99.5,573.9 99.8,574.6 99.7,575.4 99.9,576.2 99.8,576.5 99.9,577.6 100.4,578.4 100.7,578.5 100.9,579.6 101.4,579.1 101.6,577.6 101.9,577 102,576.5 102.2,577.3 102.3,578 102.6,578.9 103.1,579.3 102.8,580.4 103.2,581.2 103,582.1 103.1,582.8 103.2,583.1 103.1,583.9 103.6,584.8 103.6,585.6 103.3,586.3 103.7,586.8 103.7,587.8 103.5,588.8 103.9,589.3 103.7,590.4 103.6,590.6 104,591.6 103.7,592.3 103.9,592.7 103.8,593.4 104.1,594.3 104,595.4 104,595.8 104.2,596.8 104.7,597.3 105.2,598.3 105.2,599.1 105.5,599.6 105.5,600.7 105.8,601 105.9,602.2 106.1,602.5 106.2,602.9 106.1,603.6 106,604.3 106.3,605.8 106.6,606.4 106.6,606.7 106.7,607.8 106.8,608 106.9,608.7 106.9,610 107.1,610.5 107.1,611.2 107.4,612.3 107.5,612.9 107.4,613.3 107.6,613.9 107.8,614.6 108,616 108,616.1 108.2,617.3 108.5,616.2 109.4,615.8 109.4,616.8 109.5,617.2 109.7,617.7 109.9,619 109.8,619.7 109.8,619.9 110.4,620.5 110,621.7 110.6,622.3 110.3,623.1 110.6,623.5 110.5,624.4 111,624.5 110.8,625.6 111,625.9 111,626.7 111.4,628 111.5,628.2 111.5,629 111.3,629.8 111.8,630.1 111.7,631.2 112.2,630.8 113.2,631.2 113.5,632.3 113.3,632.2 113.5,633.6 113.9,633.6 113.6,634.9 114.1,635.1 114.2,635.8 114.4,637.1 114.2,637.3 114.5,638.5 114.5,638.8 114.8,639.6 114.5,640.4 114.7,641.3 114.7,641.5 115.1,642.4 115.1,642.8 115.1,643.9 114.8,644.9 115.2,645.3 115,645.7 115.3,646.9 115.5,647.4 115.4,647.9 115.4,649.3 115.5,649.6 115.9,650.7 115.8,651.3 116.1,651.3 115.7,652.7 115.9,653 116.3,653.7 116.4,654.2 116.3,655 116.4,655.7 116.7,656.5 116.6,655.3 116.8,654.8 116.9,654.6 116.9,654 117.3,652.8 117.5,651.9 117.6,651.5 117.6,650.5 117.5,650.1 117.8,649.4 117.9,648.5 118.7,649.1 119,649.6 119,650.3 119.3,651.4 119.4,651.7 119.3,652.4 119.5,652.9 119.8,653.6 119.8,654.4 119.8,655.4 119.8,656.3 119.9,656.3 120.2,657.2 120.1,658.4 120.2,658.8 120.1,659.7 120.4,659.9 120.3,661 120.8,662.1 120.8,662.4 120.6,662.9 120.6,664.2 120.8,664.3 120.8,665 121.1,666.3 121,666.7 121.1,667.1 121.3,668.1 121.4,668.4 121.7,669.7 122.3,670.5 122.7,670.8 123.1,671.7 123.5,672 123.7,672.7 124.1,673 124.6,673.5 125.1,674.2 125.5,675.4 126,675.6 126.4,676.2 126.9,676.2 127.9,677.2 128.3,677.3 128.4,678 128.8,678.5 128.7,679.2 129.1,679.9 129.6,680.9 129.5,681.3 129.6,682.4 130,683.1 130.1,683.7 130.3,684.5 131,685.1 131,685.9 131.1,686.7 131.3,687.5 131.6,688.1 131.9,688.6 132.3,689.4 133.3,689.8 133.6,690.6 134.6,690.6 135.1,690.6 136.2,690.5 136.9,690.7 137.5,691.1 138.3,691.3 138.8,692.2 139.4,692.6 139.8,693.4 140.3,693.7 140.7,694.3 141,694.8 141.6,695.4 142.4,696.2 142.7,696.9 143.6,697.8 144.3,697.5 144.9,697.8 145.4,698.2 146.1,699 146.7,699.3 147.5,699.2 147.9,699.7 148.7,699.8 149.5,699.9 150.1,700.2 150.8,700.4 151.7,700.4 152,700.8 153.1,700.8 153.8,700.6 154.4,700.9 155.3,701.4 155.8,701.3 156.5,701.3 157.2,701.4 158,701.1 158.7,701.7 159.7,701.1 160.2,701.6 161.1,701.7 161.8,702.2 162.4,702.2 163.2,701.6 163.8,702 164.9,701.9 165.3,701.6 166.2,702.3 166.8,701.9 167.7,702.1 168.4,702.3 169.3,702 170,702.2" fill="none" stroke="#111" stroke-width="1.3" stroke-linejoin="round" />
<rect x="54.6" y="517" width="184.9" height="185.5" fill="none" stroke="#1a1a1a" stroke-width="1.3"/>
<line x1="54.6" y1="517" x2="54.6" y2="703.1" stroke="#222" stroke-width="1.3"/>
<line x1="49.8" y1="702.5" x2="239.5" y2="702.5" stroke="#111" stroke-width="1.5"/>
<text x="47" y="705.7" font-size="9" font-weight="normal" text-anchor="end" fill="#222" >0</text>
<line x1="52.4" y1="694" x2="54.6" y2="694" stroke="#222" stroke-width="1.0"/>
<line x1="52.4" y1="685.5" x2="54.6" y2="685.5" stroke="#222" stroke-width="1.0"/>
<line x1="52.4" y1="677" x2="54.6" y2="677" stroke="#222" stroke-width="1.0"/>
<line x1="52.4" y1="668.5" x2="54.6" y2="668.5" stroke="#222" stroke-width="1.0"/>
<line x1="49.8" y1="660" x2="54.6" y2="660" stroke="#222" stroke-width="1.1"/>
<text x="47" y="663.2" font-size="9" font-weight="normal" text-anchor="end" fill="#222" >50</text>
<line x1="52.4" y1="651.5" x2="54.6" y2="651.5" stroke="#222" stroke-width="1.0"/>
<line x1="52.4" y1="643" x2="54.6" y2="643" stroke="#222" stroke-width="1.0"/>
<line x1="52.4" y1="634.5" x2="54.6" y2="634.5" stroke="#222" stroke-width="1.0"/>
<line x1="52.4" y1="626" x2="54.6" y2="626" stroke="#222" stroke-width="1.0"/>
<line x1="49.8" y1="617.5" x2="54.6" y2="617.5" stroke="#222" stroke-width="1.1"/>
<text x="47" y="620.7" font-size="9" font-weight="normal" text-anchor="end" fill="#222" >100</text>
<line x1="52.4" y1="609" x2="54.6" y2="609" stroke="#222" stroke-width="1.0"/>
<line x1="52.4" y1="600.5" x2="54.6" y2="600.5" stroke="#222" stroke-width="1.0"/>
<line x1="52.4" y1="592" x2="54.6" y2="592" stroke="#222" stroke-width="1.0"/>
<line x1="52.4" y1="583.5" x2="54.6" y2="583.5" stroke="#222" stroke-width="1.0"/>
<line x1="49.8" y1="575" x2="54.6" y2="575" stroke="#222" stroke-width="1.1"/>
<text x="47" y="578.2" font-size="9" font-weight="normal" text-anchor="end" fill="#222" >150</text>
<line x1="52.4" y1="566.5" x2="54.6" y2="566.5" stroke="#222" stroke-width="1.0"/>
<line x1="52.4" y1="558" x2="54.6" y2="558" stroke="#222" stroke-width="1.0"/>
<line x1="52.4" y1="549.5" x2="54.6" y2="549.5" stroke="#222" stroke-width="1.0"/>
<line x1="52.4" y1="541" x2="54.6" y2="541" stroke="#222" stroke-width="1.0"/>
<line x1="49.8" y1="532.5" x2="54.6" y2="532.5" stroke="#222" stroke-width="1.1"/>
<text x="47" y="535.7" font-size="9" font-weight="normal" text-anchor="end" fill="#222" >200</text>
<line x1="52.4" y1="524" x2="54.6" y2="524" stroke="#222" stroke-width="1.0"/>
<line x1="54.6" y1="702.5" x2="54.6" y2="707.7" stroke="#222" stroke-width="1.1"/>
<line x1="68.5" y1="702.5" x2="68.5" y2="705.1" stroke="#222" stroke-width="1.0"/>
<line x1="76.7" y1="702.5" x2="76.7" y2="705.1" stroke="#222" stroke-width="1.0"/>
<line x1="82.4" y1="702.5" x2="82.4" y2="705.1" stroke="#222" stroke-width="1.0"/>
<line x1="86.9" y1="702.5" x2="86.9" y2="705.1" stroke="#222" stroke-width="1.0"/>
<line x1="90.6" y1="702.5" x2="90.6" y2="705.1" stroke="#222" stroke-width="1.0"/>
<line x1="93.7" y1="702.5" x2="93.7" y2="705.1" stroke="#222" stroke-width="1.0"/>
<line x1="96.3" y1="702.5" x2="96.3" y2="705.1" stroke="#222" stroke-width="1.0"/>
<line x1="98.7" y1="702.5" x2="98.7" y2="705.1" stroke="#222" stroke-width="1.0"/>
<line x1="100.8" y1="702.5" x2="100.8" y2="707.7" stroke="#222" stroke-width="1.1"/>
<line x1="114.7" y1="702.5" x2="114.7" y2="705.1" stroke="#222" stroke-width="1.0"/>
<line x1="122.9" y1="702.5" x2="122.9" y2="705.1" stroke="#222" stroke-width="1.0"/>
<line x1="128.7" y1="702.5" x2="128.7" y2="705.1" stroke="#222" stroke-width="1.0"/>
<line x1="133.1" y1="702.5" x2="133.1" y2="705.1" stroke="#222" stroke-width="1.0"/>
<line x1="136.8" y1="702.5" x2="136.8" y2="705.1" stroke="#222" stroke-width="1.0"/>
<line x1="139.9" y1="702.5" x2="139.9" y2="705.1" stroke="#222" stroke-width="1.0"/>
<line x1="142.6" y1="702.5" x2="142.6" y2="705.1" stroke="#222" stroke-width="1.0"/>
<line x1="144.9" y1="702.5" x2="144.9" y2="705.1" stroke="#222" stroke-width="1.0"/>
<line x1="147.1" y1="702.5" x2="147.1" y2="707.7" stroke="#222" stroke-width="1.1"/>
<line x1="161" y1="702.5" x2="161" y2="705.1" stroke="#222" stroke-width="1.0"/>
<line x1="169.1" y1="702.5" x2="169.1" y2="705.1" stroke="#222" stroke-width="1.0"/>
<line x1="174.9" y1="702.5" x2="174.9" y2="705.1" stroke="#222" stroke-width="1.0"/>
<line x1="179.4" y1="702.5" x2="179.4" y2="705.1" stroke="#222" stroke-width="1.0"/>
<line x1="183" y1="702.5" x2="183" y2="705.1" stroke="#222" stroke-width="1.0"/>
<line x1="186.1" y1="702.5" x2="186.1" y2="705.1" stroke="#222" stroke-width="1.0"/>
<line x1="188.8" y1="702.5" x2="188.8" y2="705.1" stroke="#222" stroke-width="1.0"/>
<line x1="191.2" y1="702.5" x2="191.2" y2="705.1" stroke="#222" stroke-width="1.0"/>
<line x1="193.3" y1="702.5" x2="193.3" y2="707.7" stroke="#222" stroke-width="1.1"/>
<line x1="207.2" y1="702.5" x2="207.2" y2="705.1" stroke="#222" stroke-width="1.0"/>
<line x1="215.3" y1="702.5" x2="215.3" y2="705.1" stroke="#222" stroke-width="1.0"/>
<line x1="221.1" y1="702.5" x2="221.1" y2="705.1" stroke="#222" stroke-width="1.0"/>
<line x1="225.6" y1="702.5" x2="225.6" y2="705.1" stroke="#222" stroke-width="1.0"/>
<line x1="229.2" y1="702.5" x2="229.2" y2="705.1" stroke="#222" stroke-width="1.0"/>
<line x1="232.3" y1="702.5" x2="232.3" y2="705.1" stroke="#222" stroke-width="1.0"/>
<line x1="235" y1="702.5" x2="235" y2="705.1" stroke="#222" stroke-width="1.0"/>
<line x1="237.4" y1="702.5" x2="237.4" y2="705.1" stroke="#222" stroke-width="1.0"/>
<line x1="239.5" y1="702.5" x2="239.5" y2="707.7" stroke="#222" stroke-width="1.1"/>
<text x="53.9" y="719.7" font-size="8.5" fill="#222" text-anchor="middle">10<tspan dy="-3.8" font-size="6.5">0</tspan></text>
<text x="100.1" y="719.7" font-size="8.5" fill="#222" text-anchor="middle">10<tspan dy="-3.8" font-size="6.5">1</tspan></text>
<text x="146.4" y="719.7" font-size="8.5" fill="#222" text-anchor="middle">10<tspan dy="-3.8" font-size="6.5">2</tspan></text>
<text x="192.6" y="719.7" font-size="8.5" fill="#222" text-anchor="middle">10<tspan dy="-3.8" font-size="6.5">3</tspan></text>
<text x="238.8" y="719.7" font-size="8.5" fill="#222" text-anchor="middle">10<tspan dy="-3.8" font-size="6.5">4</tspan></text>
<line x1="139.2" y1="688.8" x2="239.5" y2="688.8" stroke="#111" stroke-width="2.0"/>
<line x1="139.2" y1="684.2" x2="139.2" y2="689.5" stroke="#111" stroke-width="1.0"/>
<line x1="239.5" y1="686.3" x2="239.5" y2="691.3" stroke="#111" stroke-width="1.6"/>
<text x="237.2" y="683.8" font-size="8.5" font-weight="normal" text-anchor="end" fill="#222" >0.73</text>
<text x="145" y="740" font-size="16.5" font-weight="bold" text-anchor="middle" fill="#000" >CD62P-PE</text>
<text transform="translate(24.9,613.6) rotate(-90)" font-size="16.5" font-weight="bold" text-anchor="middle">platelet count</text>
<text x="1.3" y="528.8" font-size="24" font-weight="bold" text-anchor="start" fill="#000" >E</text>
<polyline points="328.6,694 328.9,694.6 329.3,695.2 329.4,695.9 329.8,696.6 330,697.4 330.3,698.1 330.5,698.8 330.8,699.5 331.4,699.4 332.2,699.6 332.9,699.3 333.6,699.4 334.5,699.3 335.1,699.6 335.7,699.6 336.6,699.6 337.2,699.7 337.9,699.6 338.8,699.5 339.5,699.6 340.2,699.4 341,699.5 341.5,699.3 342.4,699.7 343,699.5 343.8,699.5 344.5,699.4 345.1,699.6 345.9,699.4 346.6,699.2 347.2,699.3 348.1,699.3 348.6,699.2 349.3,699.5 350.2,699.1 350.9,699.1 351.6,699.1 352.3,699 353,699.1 353.6,699.3 354.4,699.2 355,699 355.9,699.1 356.6,699.1 357.3,699 357.9,699.2 358.5,699 359.2,698.9 360.1,698.8 360.7,698.8 361.5,698.9 362.3,699 363,698.8 363.7,698.7 364.5,698.9 365.2,698.9 365.8,698.9 366.6,698.9 367.4,698.9 368.1,698.8 368.9,698.8 369.6,698.9 370.4,699 371,699.1 371.8,698.8 372.4,698.8 373.2,698.9 373.9,699.1 374.6,699 375.4,698.9 376.1,698.8 376.7,698.6 377.4,698.4 378.1,698.2 378.9,697.7 379.5,697.7 380.1,697.5 380.8,697.4 381.5,697 382.2,696.6 382.9,696.4 383.4,696.2 384.1,696.1 385,695.8 385.5,695.4 386.2,695.4 386.8,694.9 387.4,694.6 388.2,693.8 388.8,693.5 389.5,692.8 390,692.5 390.7,692.5 391.5,692.2 392.2,692 393.1,691.8 393.8,691.8 394.4,691.1 394.9,690.6 395.4,690.1 395.9,689.5 396.4,688.6 396.9,688.1 397.3,687.3 397.5,686.6 397.9,686.2 398.2,685.5 398.5,684.8 398.8,684.3 399.3,683.4 399.5,682.9 399.9,682.4 400.1,681.8 400.4,681 400.8,680.4 401.1,679.9 401.3,679.2 401.7,678.5 401.8,677.6 402.2,677.1 402.4,676.2 402.7,675.5 402.9,675.1 403.3,674.2 403.6,673.6 403.9,672.8 403.9,672 404.2,671.6 404.6,670.8 404.7,670.3 405.1,669.4 405.2,668.9 405.2,668.1 405.5,667.3 405.5,666.5 405.7,666.2 405.9,665.3 406.2,664.7 406.2,663.9 406.5,663.2 406.6,662.6 406.9,662.1 407,661.2 407.3,660.7 407.4,659.9 407.5,659.2 407.6,658.6 407.6,657.9 407.9,657 408.1,656.6 408.1,655.8 408.1,655 408.3,654.5 408.3,653.6 408.6,652.8 408.7,652.5 408.8,651.4 408.9,650.9 409.1,650.2 409.1,649.6 409.3,648.9 409.4,648.2 409.5,647.5 409.6,646.7 409.8,645.9 409.8,645.5 410,644.6 410,643.9 410.2,643.2 410.4,642.7 410.4,641.9 410.4,641 410.5,640.4 410.7,639.7 410.6,638.9 410.8,638.5 410.9,637.6 410.9,636.9 410.9,636.4 411,635.6 411.2,634.8 411.2,634.1 411.2,633.4 411.3,632.6 411.5,632 411.4,631.4 411.5,630.6 411.7,629.8 411.7,629 411.8,628.4 411.8,627.8 411.8,626.9 411.9,626.3 411.9,625.7 412.2,624.7 412.3,624.1 412.2,623.2 412.3,622.7 412.5,621.9 412.9,621.1 413,620.5 413.4,619.8 413.7,619.3 413.9,618.3 414.1,617.9 414.4,617.2 414.6,616.2 414.9,615.6 415.2,615 415.4,614.2 415.5,613.7 415.7,612.9 415.7,612.1 415.9,611.5 416.2,610.5 416.3,609.8 416.3,608.9 416.5,608.4 416.6,607.5 416.8,607.1 416.8,606.2 417.1,605.4 417.2,604.6 417.1,604 417.3,603.2 417.4,602.3 417.4,601.7 417.6,600.9 417.4,600.5 417.6,599.6 417.7,599 417.6,598.1 417.7,597.2 417.8,596.7 417.8,596.1 418,595.3 418,594.5 418.1,593.6 418.1,592.9 418.2,592.3 418.3,591.4 418.3,590.7 418.4,590.3 418.5,589.3 418.5,588.5 418.5,587.8 418.6,587.4 418.7,586.4 418.8,585.9 418.8,585.1 419,584.5 419,583.5 419.1,583.1 419,582.1 419.2,581.5 419.5,582.1 419.7,583 420.1,583.8 420.3,584.6 420.5,583.8 420.5,583.2 420.4,582.3 420.6,581.7 420.7,580.9 420.7,580.3 420.8,579.3 420.9,578.9 420.8,577.9 420.9,577.2 421,576.7 421,575.9 421.2,575.1 421.1,574.4 421.2,573.7 421.2,572.8 421.3,572.3 421.4,571.4 421.5,570.8 421.5,569.9 421.6,569.4 421.7,568.7 421.6,567.8 421.7,567.3 421.8,566.6 421.8,565.8 421.9,565.1 422,564.2 421.9,563.4 422.1,562.7 422.2,562.1 422.1,561.2 422.2,560.6 422.1,559.8 422.2,559.4 422.3,558.5 422.4,559.4 422.6,560 422.5,560.8 422.7,561.4 422.7,561.8 422.8,562.5 422.7,563.6 423,564.2 422.9,564.9 422.9,565.6 423.1,566.2 423.2,565.7 423.3,564.8 423.3,564.2 423.2,563.2 423.4,562.6 423.2,561.8 423.4,561.2 423.5,560.5 423.4,559.5 423.4,558.8 423.6,558 423.7,557.3 423.6,556.7 423.7,556 423.8,555.2 423.7,554.7 423.8,553.8 423.8,553.2 423.8,552.5 424,551.7 423.9,551.1 424.1,550.3 424,549.8 424,549 423.9,548.1 424.1,547.4 424.1,546.6 424.1,545.9 424.3,545.4 424.2,544.8 424.3,544 424.2,543.1 424.3,542.5 424.2,541.7 424.4,541.2 424.3,540.3 424.4,539.8 424.5,539.2 424.4,538.3 424.6,537.5 424.6,536.9 424.8,536.3 425.2,535.2 425.4,534.6 426.1,535.1 426.9,535.4 427.2,534.6 427.4,534.1 427.7,533.6 428,532.8 428.3,532.1 428.5,531.5 428.9,530.9 429.1,530.2 429.5,529.6 429.9,528.7 430.2,528.2 430.6,527.4 430.8,526.9 431.1,527.8 431.5,528.5 431.7,529.4 431.9,529.8 432.3,530.8 432.4,531.6 432.6,532.3 432.8,533.1 433.1,533.8 433.4,534.8 433.5,535.4 434.3,535.7 435.1,536.2 435.7,536.9 435.6,537.5 435.9,538.5 435.8,539.3 435.9,539.9 435.8,540.5 435.9,541.4 436,542.1 436.1,542.8 436,543.7 436.3,544.2 436.3,544.9 436.3,545.5 436.3,546.2 436.4,547.1 436.3,548 436.4,548.8 436.5,549.3 436.6,550 436.6,550.8 436.5,551.4 436.8,552.1 436.7,553.1 436.7,553.8 436.9,554.2 436.8,555.1 436.9,555.6 436.9,556.4 437.1,557 437.1,557.9 437,558.5 437.2,559.4 437.3,560 437.1,560.8 437.3,561.2 437.3,562.3 437.4,562.7 437.3,563.3 437.4,564.3 437.3,564.9 437.4,565.6 437.4,566.4 437.6,566.9 437.6,567.8 437.6,568.5 437.7,569.2 437.9,569.8 438.3,570.8 438.6,571.6 438.6,572.4 439,573 439.2,573.8 439.3,574.3 439.4,575.2 439.5,575.9 439.6,576.9 439.5,577.3 439.7,578.3 439.6,578.7 439.7,579.4 439.8,580.1 439.9,581.1 440,581.6 440,582.4 440.2,583.1 440.3,584 440.3,584.6 440.2,585.2 440.3,586.1 440.4,586.8 440.6,587.3 440.6,588.3 440.7,588.7 440.6,589.5 440.8,590.1 440.7,590.8 440.8,591.6 441,592.4 441.1,592.9 441.1,593.5 441.2,594.3 441.2,595.3 441.2,596 441.3,596.6 441.3,597.2 441.3,598 441.4,598.6 441.5,599.5 441.5,600 441.6,600.8 441.4,601.3 441.5,602 441.5,602.9 441.5,603.4 441.5,604.4 441.5,604.9 441.4,605.8 441.5,606.2 441.4,607.2 441.6,607.9 441.4,608.5 441.5,609.5 441.5,609.9 441.5,610.7 441.5,611.6 441.6,612.1 441.5,612.7 441.5,613.7 441.5,614.5 441.5,615 441.5,615.5 441.7,616.4 441.7,617 441.7,617.9 441.6,618.6 441.9,619.3 441.8,619.8 441.9,620.6 441.9,621.3 442,622.2 442,622.7 442.2,623.4 442.2,624.2 442.2,624.7 442.3,625.7 442.3,626.4 442.4,627.1 442.4,627.6 442.5,628.3 442.5,629.3 442.6,629.8 442.7,630.5 442.8,631.1 442.7,632.1 442.8,632.6 442.9,633.2 442.9,634 442.9,634.9 443.1,635.6 443.1,636.2 443.2,637 443.4,637.5 443.6,638.4 443.7,639 443.6,639.9 443.7,640.5 444,641.2 444.2,642 444.2,642.7 444.2,643.1 444.5,644.1 444.4,644.7 444.7,645.5 444.8,646 445,647 445,647.4 445.3,648.4 445.3,648.9 445.4,649.6 445.6,650.1 445.5,650.9 445.6,651.8 445.7,652.2 445.6,653 445.9,653.9 445.9,654.6 446,655.3 445.9,655.7 446.2,656.7 446.1,657.4 446.3,657.9 446.4,658.5 446.3,659.5 446.5,660.1 446.5,660.7 446.5,661.3 446.7,662.1 446.8,663 446.8,663.7 446.8,664.3 446.9,665 447,665.8 447.1,666.6 447.2,667.2 447.4,668.1 447.5,668.6 447.7,669.4 447.7,670.1 447.7,670.9 448,671.3 448.1,672.2 448.3,673.1 448.3,673.4 448.4,674.5 448.5,675.2 448.8,675.7 448.8,676.5 449,677.3 449.1,678 449.3,678.5 449.3,679.1 449.4,679.8 449.6,680.6 449.8,681.5 449.8,682.1 450,682.7 450.2,683.5 450.5,684.3 450.6,684.7 450.6,685.4 450.8,686.2 451.1,686.9 451.4,687.7 451.5,688.2 452,689 452.1,689.8 452.4,690.2 452.7,691 452.8,691.6 453.1,692.3 453.5,693.1 453.7,693.8 454.1,694.6 454.6,695 455.1,695.5 455.7,696.2 456.1,697 456.6,697.6 457,698 457.5,698.7 458.2,698.8 458.9,699.1 459.5,699.4 460.2,699.7 460.9,700.1 461.6,700.4 462.3,700.6 462.9,700.5 463.8,700.8 464.3,700.6 465.2,701 465.7,700.9 466.6,701 467.3,701.2 468,701.2 468.6,701 469.4,701 470,701.2 470.7,701.3 471.5,701.3 472.2,701.5 472.8,701.1 473.5,701.2 474.4,701.4 475,701.3 475.6,701.3 476.4,701.6 477.2,701.3 477.9,701.4 478.5,701.7 479.4,701.7 480,701.6" fill="none" stroke="#111" stroke-width="1.1" stroke-linejoin="round" />
<rect x="328" y="517" width="184.9" height="184.9" fill="none" stroke="#444" stroke-width="1.3"/>
<line x1="328" y1="517" x2="328" y2="702.5" stroke="#444" stroke-width="1.5"/>
<line x1="323.2" y1="701.9" x2="512.9" y2="701.9" stroke="#111" stroke-width="1.5"/>
<text x="320.4" y="705.1" font-size="9" font-weight="normal" text-anchor="end" fill="#222" >0</text>
<line x1="325.8" y1="689.4" x2="328" y2="689.4" stroke="#222" stroke-width="1.0"/>
<line x1="325.8" y1="676.9" x2="328" y2="676.9" stroke="#222" stroke-width="1.0"/>
<line x1="325.8" y1="664.4" x2="328" y2="664.4" stroke="#222" stroke-width="1.0"/>
<line x1="323.2" y1="651.9" x2="328" y2="651.9" stroke="#222" stroke-width="1.1"/>
<text x="320.4" y="655.1" font-size="9" font-weight="normal" text-anchor="end" fill="#222" >100</text>
<line x1="325.8" y1="639.4" x2="328" y2="639.4" stroke="#222" stroke-width="1.0"/>
<line x1="325.8" y1="626.9" x2="328" y2="626.9" stroke="#222" stroke-width="1.0"/>
<line x1="325.8" y1="614.4" x2="328" y2="614.4" stroke="#222" stroke-width="1.0"/>
<line x1="323.2" y1="601.9" x2="328" y2="601.9" stroke="#222" stroke-width="1.1"/>
<text x="320.4" y="605.1" font-size="9" font-weight="normal" text-anchor="end" fill="#222" >200</text>
<line x1="325.8" y1="589.4" x2="328" y2="589.4" stroke="#222" stroke-width="1.0"/>
<line x1="325.8" y1="576.9" x2="328" y2="576.9" stroke="#222" stroke-width="1.0"/>
<line x1="325.8" y1="564.4" x2="328" y2="564.4" stroke="#222" stroke-width="1.0"/>
<line x1="323.2" y1="551.9" x2="328" y2="551.9" stroke="#222" stroke-width="1.1"/>
<text x="320.4" y="555.1" font-size="9" font-weight="normal" text-anchor="end" fill="#222" >300</text>
<line x1="325.8" y1="539.4" x2="328" y2="539.4" stroke="#222" stroke-width="1.0"/>
<line x1="325.8" y1="526.9" x2="328" y2="526.9" stroke="#222" stroke-width="1.0"/>
<line x1="328" y1="701.9" x2="328" y2="707.1" stroke="#222" stroke-width="1.1"/>
<line x1="341.9" y1="701.9" x2="341.9" y2="704.5" stroke="#222" stroke-width="1.0"/>
<line x1="350.1" y1="701.9" x2="350.1" y2="704.5" stroke="#222" stroke-width="1.0"/>
<line x1="355.8" y1="701.9" x2="355.8" y2="704.5" stroke="#222" stroke-width="1.0"/>
<line x1="360.3" y1="701.9" x2="360.3" y2="704.5" stroke="#222" stroke-width="1.0"/>
<line x1="364" y1="701.9" x2="364" y2="704.5" stroke="#222" stroke-width="1.0"/>
<line x1="367.1" y1="701.9" x2="367.1" y2="704.5" stroke="#222" stroke-width="1.0"/>
<line x1="369.7" y1="701.9" x2="369.7" y2="704.5" stroke="#222" stroke-width="1.0"/>
<line x1="372.1" y1="701.9" x2="372.1" y2="704.5" stroke="#222" stroke-width="1.0"/>
<line x1="374.2" y1="701.9" x2="374.2" y2="707.1" stroke="#222" stroke-width="1.1"/>
<line x1="388.1" y1="701.9" x2="388.1" y2="704.5" stroke="#222" stroke-width="1.0"/>
<line x1="396.3" y1="701.9" x2="396.3" y2="704.5" stroke="#222" stroke-width="1.0"/>
<line x1="402.1" y1="701.9" x2="402.1" y2="704.5" stroke="#222" stroke-width="1.0"/>
<line x1="406.5" y1="701.9" x2="406.5" y2="704.5" stroke="#222" stroke-width="1.0"/>
<line x1="410.2" y1="701.9" x2="410.2" y2="704.5" stroke="#222" stroke-width="1.0"/>
<line x1="413.3" y1="701.9" x2="413.3" y2="704.5" stroke="#222" stroke-width="1.0"/>
<line x1="416" y1="701.9" x2="416" y2="704.5" stroke="#222" stroke-width="1.0"/>
<line x1="418.3" y1="701.9" x2="418.3" y2="704.5" stroke="#222" stroke-width="1.0"/>
<line x1="420.4" y1="701.9" x2="420.4" y2="707.1" stroke="#222" stroke-width="1.1"/>
<line x1="434.4" y1="701.9" x2="434.4" y2="704.5" stroke="#222" stroke-width="1.0"/>
<line x1="442.5" y1="701.9" x2="442.5" y2="704.5" stroke="#222" stroke-width="1.0"/>
<line x1="448.3" y1="701.9" x2="448.3" y2="704.5" stroke="#222" stroke-width="1.0"/>
<line x1="452.8" y1="701.9" x2="452.8" y2="704.5" stroke="#222" stroke-width="1.0"/>
<line x1="456.4" y1="701.9" x2="456.4" y2="704.5" stroke="#222" stroke-width="1.0"/>
<line x1="459.5" y1="701.9" x2="459.5" y2="704.5" stroke="#222" stroke-width="1.0"/>
<line x1="462.2" y1="701.9" x2="462.2" y2="704.5" stroke="#222" stroke-width="1.0"/>
<line x1="464.6" y1="701.9" x2="464.6" y2="704.5" stroke="#222" stroke-width="1.0"/>
<line x1="466.7" y1="701.9" x2="466.7" y2="707.1" stroke="#222" stroke-width="1.1"/>
<line x1="480.6" y1="701.9" x2="480.6" y2="704.5" stroke="#222" stroke-width="1.0"/>
<line x1="488.7" y1="701.9" x2="488.7" y2="704.5" stroke="#222" stroke-width="1.0"/>
<line x1="494.5" y1="701.9" x2="494.5" y2="704.5" stroke="#222" stroke-width="1.0"/>
<line x1="499" y1="701.9" x2="499" y2="704.5" stroke="#222" stroke-width="1.0"/>
<line x1="502.6" y1="701.9" x2="502.6" y2="704.5" stroke="#222" stroke-width="1.0"/>
<line x1="505.7" y1="701.9" x2="505.7" y2="704.5" stroke="#222" stroke-width="1.0"/>
<line x1="508.4" y1="701.9" x2="508.4" y2="704.5" stroke="#222" stroke-width="1.0"/>
<line x1="510.8" y1="701.9" x2="510.8" y2="704.5" stroke="#222" stroke-width="1.0"/>
<line x1="512.9" y1="701.9" x2="512.9" y2="707.1" stroke="#222" stroke-width="1.1"/>
<text x="327.3" y="719.1" font-size="8.5" fill="#222" text-anchor="middle">10<tspan dy="-3.8" font-size="6.5">0</tspan></text>
<text x="373.5" y="719.1" font-size="8.5" fill="#222" text-anchor="middle">10<tspan dy="-3.8" font-size="6.5">1</tspan></text>
<text x="419.8" y="719.1" font-size="8.5" fill="#222" text-anchor="middle">10<tspan dy="-3.8" font-size="6.5">2</tspan></text>
<text x="466" y="719.1" font-size="8.5" fill="#222" text-anchor="middle">10<tspan dy="-3.8" font-size="6.5">3</tspan></text>
<text x="512.2" y="719.1" font-size="8.5" fill="#222" text-anchor="middle">10<tspan dy="-3.8" font-size="6.5">4</tspan></text>
<line x1="412.7" y1="688.8" x2="512.9" y2="688.8" stroke="#111" stroke-width="2.0"/>
<line x1="412.7" y1="684.6" x2="412.7" y2="693.5" stroke="#111" stroke-width="1.0"/>
<line x1="512.9" y1="686.3" x2="512.9" y2="691.3" stroke="#111" stroke-width="1.6"/>
<text x="510.6" y="683.8" font-size="8.5" font-weight="normal" text-anchor="end" fill="#222" >84.9</text>
<text x="415" y="740" font-size="16.5" font-weight="bold" text-anchor="middle" fill="#000" >CD62P-PE</text>
<text transform="translate(295.8,613.6) rotate(-90)" font-size="16.5" font-weight="bold" text-anchor="middle">platelet count</text>
<text x="275" y="529" font-size="24" font-weight="bold" text-anchor="start" fill="#000" >F</text>
</svg>
</body></html>
